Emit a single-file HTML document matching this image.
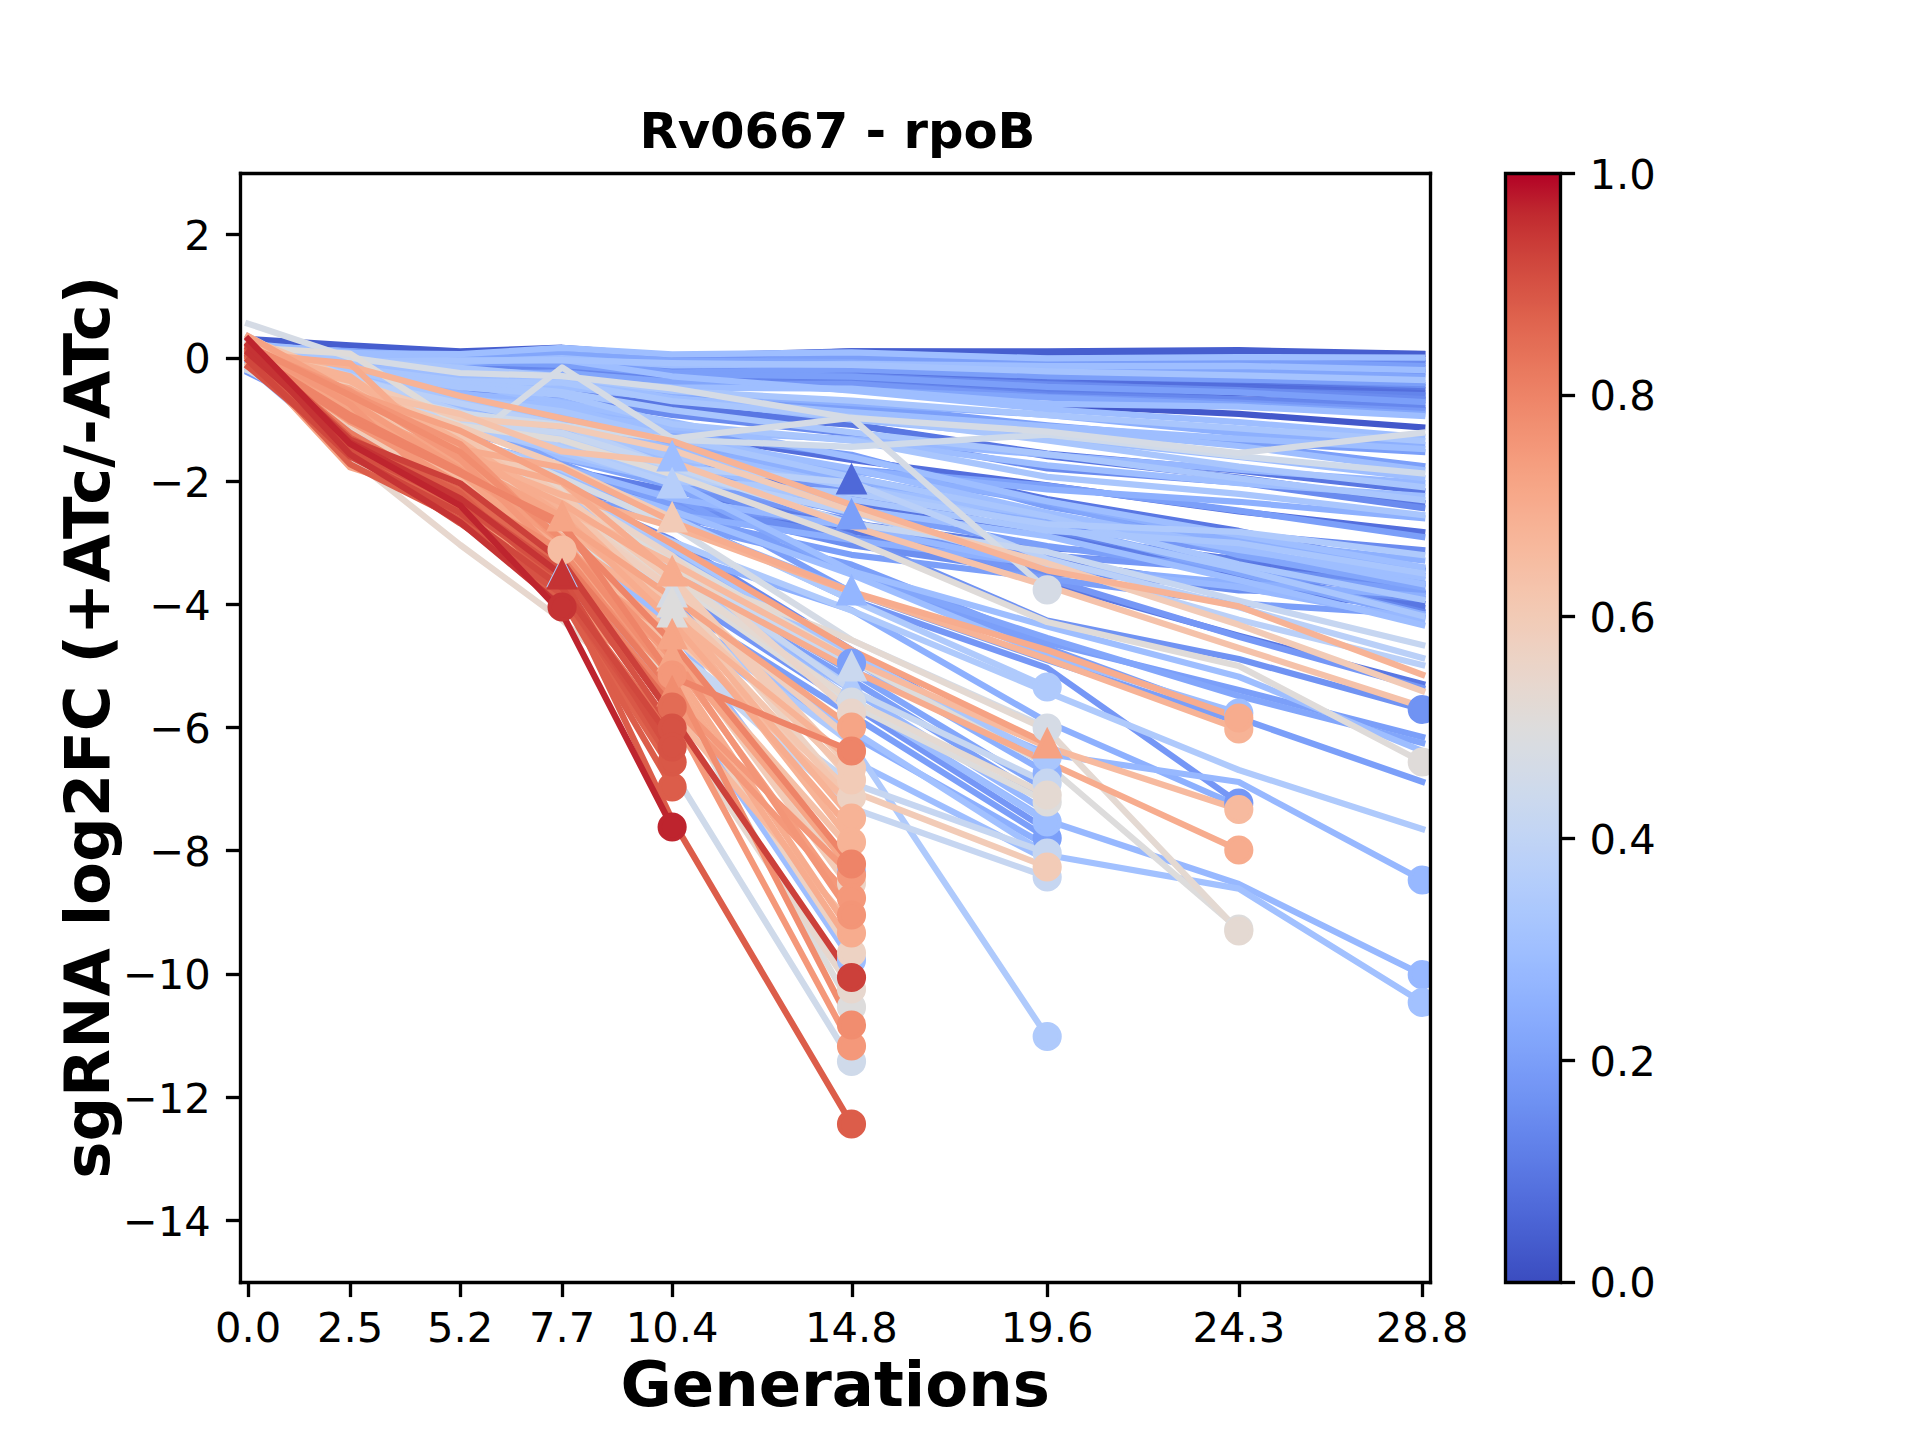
<!DOCTYPE html>
<html lang="en"><head><meta charset="utf-8"><title>Rv0667 - rpoB</title>
<style>html,body{margin:0;padding:0;background:#fff}body{width:1920px;height:1440px;overflow:hidden}svg{display:block}</style></head>
<body>
<svg  width="1920" height="1440" viewBox="0 0 460.8 345.6"  version="1.1">
<defs>
<style type="text/css">*{stroke-linejoin: round; stroke-linecap: butt}</style>
</defs>
<g id="figure_1">
<g id="patch_1">
<path d="M 0 345.6  L 460.8 345.6  L 460.8 0  L 0 0 
z
" style="fill: #ffffff"/>
</g>
<g id="axes_1">
<g id="patch_2">
<path d="M 57.6 307.584  L 343.296 307.584  L 343.296 41.472  L 57.6 41.472 
z
" style="fill: #ffffff"/>
</g>
<g id="matplotlib.axis_1">
<g id="xtick_1">
<g id="line2d_1">
<defs>
<path id="mb6b4cb69cc" d="M 0 0  L 0 3.5" style="stroke: #000000; stroke-width: 0.8"/>
</defs>
<g>
<use href="#mb6b4cb69cc" x="59.6400" y="307.8000" style="stroke: #000000; stroke-width: 0.8"/>
</g>
</g>
<g id="text_1">
<text style="font-size: 10px; font-family: 'DejaVu Sans', 'Liberation Sans', sans-serif; text-anchor: middle" x="59.556822" y="322.182437" transform="rotate(-0 59.556822 322.182437)">0.0</text>
</g>
</g>
<g id="xtick_2">
<g id="line2d_2">
<g>
<use href="#mb6b4cb69cc" x="84.1200" y="307.8000" style="stroke: #000000; stroke-width: 0.8"/>
</g>
</g>
<g id="text_2">
<text style="font-size: 10px; font-family: 'DejaVu Sans', 'Liberation Sans', sans-serif; text-anchor: middle" x="84.017096" y="322.182437" transform="rotate(-0 84.017096 322.182437)">2.5</text>
</g>
</g>
<g id="xtick_3">
<g id="line2d_3">
<g>
<use href="#mb6b4cb69cc" x="110.5200" y="307.8000" style="stroke: #000000; stroke-width: 0.8"/>
</g>
</g>
<g id="text_3">
<text style="font-size: 10px; font-family: 'DejaVu Sans', 'Liberation Sans', sans-serif; text-anchor: middle" x="110.434192" y="322.182437" transform="rotate(-0 110.434192 322.182437)">5.2</text>
</g>
</g>
<g id="xtick_4">
<g id="line2d_4">
<g>
<use href="#mb6b4cb69cc" x="135.0000" y="307.8000" style="stroke: #000000; stroke-width: 0.8"/>
</g>
</g>
<g id="text_4">
<text style="font-size: 10px; font-family: 'DejaVu Sans', 'Liberation Sans', sans-serif; text-anchor: middle" x="134.894466" y="322.182437" transform="rotate(-0 134.894466 322.182437)">7.7</text>
</g>
</g>
<g id="xtick_5">
<g id="line2d_5">
<g>
<use href="#mb6b4cb69cc" x="161.4000" y="307.8000" style="stroke: #000000; stroke-width: 0.8"/>
</g>
</g>
<g id="text_5">
<text style="font-size: 10px; font-family: 'DejaVu Sans', 'Liberation Sans', sans-serif; text-anchor: middle" x="161.311562" y="322.182437" transform="rotate(-0 161.311562 322.182437)">10.4</text>
</g>
</g>
<g id="xtick_6">
<g id="line2d_6">
<g>
<use href="#mb6b4cb69cc" x="204.6000" y="307.8000" style="stroke: #000000; stroke-width: 0.8"/>
</g>
</g>
<g id="text_6">
<text style="font-size: 10px; font-family: 'DejaVu Sans', 'Liberation Sans', sans-serif; text-anchor: middle" x="204.361644" y="322.182437" transform="rotate(-0 204.361644 322.182437)">14.8</text>
</g>
</g>
<g id="xtick_7">
<g id="line2d_7">
<g>
<use href="#mb6b4cb69cc" x="251.4000" y="307.8000" style="stroke: #000000; stroke-width: 0.8"/>
</g>
</g>
<g id="text_7">
<text style="font-size: 10px; font-family: 'DejaVu Sans', 'Liberation Sans', sans-serif; text-anchor: middle" x="251.32537" y="322.182437" transform="rotate(-0 251.32537 322.182437)">19.6</text>
</g>
</g>
<g id="xtick_8">
<g id="line2d_8">
<g>
<use href="#mb6b4cb69cc" x="297.4800" y="307.8000" style="stroke: #000000; stroke-width: 0.8"/>
</g>
</g>
<g id="text_8">
<text style="font-size: 10px; font-family: 'DejaVu Sans', 'Liberation Sans', sans-serif; text-anchor: middle" x="297.310685" y="322.182437" transform="rotate(-0 297.310685 322.182437)">24.3</text>
</g>
</g>
<g id="xtick_9">
<g id="line2d_9">
<g>
<use href="#mb6b4cb69cc" x="341.4000" y="307.8000" style="stroke: #000000; stroke-width: 0.8"/>
</g>
</g>
<g id="text_9">
<text style="font-size: 10px; font-family: 'DejaVu Sans', 'Liberation Sans', sans-serif; text-anchor: middle" x="341.339178" y="322.182437" transform="rotate(-0 341.339178 322.182437)">28.8</text>
</g>
</g>
<g id="text_10">
<text style="font-weight: 700; font-size: 15px; font-family: 'DejaVu Sans', 'Liberation Sans', sans-serif; text-anchor: middle" x="200.448" y="337.359781" transform="rotate(-0 200.448 337.359781)">Generations</text>
</g>
</g>
<g id="matplotlib.axis_2">
<g id="ytick_1">
<g id="line2d_10">
<defs>
<path id="m3492a39d4b" d="M 0 0  L -3.5 0" style="stroke: #000000; stroke-width: 0.8"/>
</defs>
<g>
<use href="#m3492a39d4b" x="57.7200" y="292.9200" style="stroke: #000000; stroke-width: 0.8"/>
</g>
</g>
<g id="text_11">
<text style="font-size: 10px; font-family: 'DejaVu Sans', 'Liberation Sans', sans-serif; text-anchor: end" x="50.6" y="296.599219" transform="rotate(-0 50.6 296.599219)">−14</text>
</g>
</g>
<g id="ytick_2">
<g id="line2d_11">
<g>
<use href="#m3492a39d4b" x="57.7200" y="263.4000" style="stroke: #000000; stroke-width: 0.8"/>
</g>
</g>
<g id="text_12">
<text style="font-size: 10px; font-family: 'DejaVu Sans', 'Liberation Sans', sans-serif; text-anchor: end" x="50.6" y="267.031219" transform="rotate(-0 50.6 267.031219)">−12</text>
</g>
</g>
<g id="ytick_3">
<g id="line2d_12">
<g>
<use href="#m3492a39d4b" x="57.7200" y="233.8800" style="stroke: #000000; stroke-width: 0.8"/>
</g>
</g>
<g id="text_13">
<text style="font-size: 10px; font-family: 'DejaVu Sans', 'Liberation Sans', sans-serif; text-anchor: end" x="50.6" y="237.463219" transform="rotate(-0 50.6 237.463219)">−10</text>
</g>
</g>
<g id="ytick_4">
<g id="line2d_13">
<g>
<use href="#m3492a39d4b" x="57.7200" y="204.1200" style="stroke: #000000; stroke-width: 0.8"/>
</g>
</g>
<g id="text_14">
<text style="font-size: 10px; font-family: 'DejaVu Sans', 'Liberation Sans', sans-serif; text-anchor: end" x="50.6" y="207.895219" transform="rotate(-0 50.6 207.895219)">−8</text>
</g>
</g>
<g id="ytick_5">
<g id="line2d_14">
<g>
<use href="#m3492a39d4b" x="57.7200" y="174.6000" style="stroke: #000000; stroke-width: 0.8"/>
</g>
</g>
<g id="text_15">
<text style="font-size: 10px; font-family: 'DejaVu Sans', 'Liberation Sans', sans-serif; text-anchor: end" x="50.6" y="178.327219" transform="rotate(-0 50.6 178.327219)">−6</text>
</g>
</g>
<g id="ytick_6">
<g id="line2d_15">
<g>
<use href="#m3492a39d4b" x="57.7200" y="145.0800" style="stroke: #000000; stroke-width: 0.8"/>
</g>
</g>
<g id="text_16">
<text style="font-size: 10px; font-family: 'DejaVu Sans', 'Liberation Sans', sans-serif; text-anchor: end" x="50.6" y="148.759219" transform="rotate(-0 50.6 148.759219)">−4</text>
</g>
</g>
<g id="ytick_7">
<g id="line2d_16">
<g>
<use href="#m3492a39d4b" x="57.7200" y="115.5600" style="stroke: #000000; stroke-width: 0.8"/>
</g>
</g>
<g id="text_17">
<text style="font-size: 10px; font-family: 'DejaVu Sans', 'Liberation Sans', sans-serif; text-anchor: end" x="50.6" y="119.191219" transform="rotate(-0 50.6 119.191219)">−2</text>
</g>
</g>
<g id="ytick_8">
<g id="line2d_17">
<g>
<use href="#m3492a39d4b" x="57.7200" y="86.0400" style="stroke: #000000; stroke-width: 0.8"/>
</g>
</g>
<g id="text_18">
<text style="font-size: 10px; font-family: 'DejaVu Sans', 'Liberation Sans', sans-serif; text-anchor: end" x="50.6" y="89.623219" transform="rotate(-0 50.6 89.623219)">0</text>
</g>
</g>
<g id="ytick_9">
<g id="line2d_18">
<g>
<use href="#m3492a39d4b" x="57.7200" y="56.2800" style="stroke: #000000; stroke-width: 0.8"/>
</g>
</g>
<g id="text_19">
<text style="font-size: 10px; font-family: 'DejaVu Sans', 'Liberation Sans', sans-serif; text-anchor: end" x="50.6" y="60.055219" transform="rotate(-0 50.6 60.055219)">2</text>
</g>
</g>
<g id="text_20">
<text style="font-weight: 700; font-size: 15px; font-family: 'DejaVu Sans', 'Liberation Sans', sans-serif; text-anchor: middle" x="26.258594" y="174.528" transform="rotate(-90 26.258594 174.528)">sgRNA log2FC (+ATc/-ATc)</text>
</g>
</g>
<g id="line2d_19">
<path d="M 59.556822 84.739619  L 84.017096 85.858278  L 110.434192 87.707197  L 134.894466 88.118557  L 161.311562 91.282524  L 204.361644 93.452818  L 251.32537 97.20041  L 297.310685 99.332141  L 341.339178 102.6" clip-path="url(#p1a0d5e3a1a)" style="fill: none; stroke: #4358cb; stroke-width: 1.5; stroke-linecap: square"/>
</g>
<g id="line2d_20">
<path d="M 59.556822 84.935323  L 84.017096 85.428915  L 110.434192 84.741568  L 134.894466 84.572785  L 161.311562 85.862252  L 204.361644 84.352285  L 251.32537 84.624828  L 297.310685 84.875966  L 341.339178 84.96" clip-path="url(#p1a0d5e3a1a)" style="fill: none; stroke: #465ecf; stroke-width: 1.5; stroke-linecap: square"/>
</g>
<g id="line2d_21">
<path d="M 59.556822 81.3888  L 84.017096 82.8672  L 110.434192 84.3456  L 134.894466 83.45856  L 161.311562 85.38048  L 204.361644 84.3456  L 251.32537 84.3456  L 297.310685 84.04992  L 341.339178 84.93696" clip-path="url(#p1a0d5e3a1a)" style="fill: none; stroke: #465ecf; stroke-width: 1.5; stroke-linecap: square"/>
</g>
<g id="line2d_22">
<path d="M 59.556822 86.121946  L 84.017096 86.583685  L 110.434192 86.57828  L 134.894466 85.662593  L 161.311562 86.911698  L 204.361644 86.143989  L 251.32537 86.707231  L 297.310685 87.068986  L 341.339178 87.12" clip-path="url(#p1a0d5e3a1a)" style="fill: none; stroke: #4961d2; stroke-width: 1.5; stroke-linecap: square"/>
</g>
<g id="line2d_23">
<path d="M 59.556822 88.0416  L 84.017096 88.683555  L 110.434192 90.7112  L 134.894466 89.503403  L 161.311562 91.077521  L 204.361644 91.81177  L 251.32537 93.519121  L 297.310685 94.373305  L 341.339178 96" clip-path="url(#p1a0d5e3a1a)" style="fill: none; stroke: #4961d2; stroke-width: 1.5; stroke-linecap: square"/>
</g>
<g id="line2d_24">
<path d="M 59.556822 83.356564  L 84.017096 89.491571  L 110.434192 94.779926  L 134.894466 98.779363  L 161.311562 105.164847  L 204.361644 115.2" clip-path="url(#p1a0d5e3a1a)" style="fill: none; stroke: #4f69d9; stroke-width: 1.5; stroke-linecap: square"/>
</g>
<g id="line2d_25">
<path d="M 59.556822 84.4621  L 84.017096 85.868636  L 110.434192 87.118706  L 134.894466 86.109407  L 161.311562 89.300332  L 204.361644 89.407824  L 251.32537 91.195214  L 297.310685 91.75971  L 341.339178 93.6" clip-path="url(#p1a0d5e3a1a)" style="fill: none; stroke: #4f69d9; stroke-width: 1.5; stroke-linecap: square"/>
</g>
<g id="line2d_26">
<path d="M 59.556822 84.7967  L 84.017096 86.031192  L 110.434192 87.105489  L 134.894466 86.850166  L 161.311562 89.140323  L 204.361644 89.266775  L 251.32537 91.154067  L 297.310685 93.054263  L 341.339178 94.32" clip-path="url(#p1a0d5e3a1a)" style="fill: none; stroke: #536edd; stroke-width: 1.5; stroke-linecap: square"/>
</g>
<g id="line2d_27">
<path d="M 59.556822 86.623374  L 84.017096 86.897485  L 110.434192 87.490705  L 134.894466 86.912435  L 161.311562 87.819203  L 204.361644 86.548881  L 251.32537 87.94144  L 297.310685 88.019008  L 341.339178 88.32" clip-path="url(#p1a0d5e3a1a)" style="fill: none; stroke: #536edd; stroke-width: 1.5; stroke-linecap: square"/>
</g>
<g id="line2d_28">
<path d="M 59.556822 85.143743  L 84.017096 89.882732  L 110.434192 95.864374  L 134.894466 98.937334  L 161.311562 103.778527  L 204.361644 110.398186  L 251.32537 116.48058  L 297.310685 122.746487  L 341.339178 127.68" clip-path="url(#p1a0d5e3a1a)" style="fill: none; stroke: #536edd; stroke-width: 1.5; stroke-linecap: square"/>
</g>
<g id="line2d_29">
<path d="M 59.556822 84.94777  L 84.017096 97.302539  L 110.434192 100.137343  L 134.894466 105.277021  L 161.311562 113.483065  L 204.361644 126.934071  L 251.32537 139.749136  L 297.310685 152.556022  L 341.339178 164.16" clip-path="url(#p1a0d5e3a1a)" style="fill: none; stroke: #5977e3; stroke-width: 1.5; stroke-linecap: square"/>
</g>
<g id="line2d_30">
<path d="M 59.556822 84.285196  L 84.017096 84.943875  L 110.434192 86.30936  L 134.894466 86.152237  L 161.311562 88.629788  L 204.361644 88.687673  L 251.32537 90.300305  L 297.310685 91.336636  L 341.339178 92.88" clip-path="url(#p1a0d5e3a1a)" style="fill: none; stroke: #5977e3; stroke-width: 1.5; stroke-linecap: square"/>
</g>
<g id="line2d_31">
<path d="M 59.556822 86.175004  L 84.017096 87.687509  L 110.434192 88.227353  L 134.894466 87.203498  L 161.311562 89.886184  L 204.361644 90.213962  L 251.32537 91.772661  L 297.310685 94.100037  L 341.339178 95.04" clip-path="url(#p1a0d5e3a1a)" style="fill: none; stroke: #5977e3; stroke-width: 1.5; stroke-linecap: square"/>
</g>
<g id="line2d_32">
<path d="M 59.556822 85.249763  L 84.017096 85.503864  L 110.434192 86.292619  L 134.894466 84.681975  L 161.311562 86.127386  L 204.361644 84.744073  L 251.32537 86.02547  L 297.310685 85.97518  L 341.339178 86.16" clip-path="url(#p1a0d5e3a1a)" style="fill: none; stroke: #5977e3; stroke-width: 1.5; stroke-linecap: square"/>
</g>
<g id="line2d_33">
<path d="M 59.556822 85.653723  L 84.017096 86.605437  L 110.434192 89.797285  L 134.894466 88.93993  L 161.311562 91.592823  L 204.361644 92.068155  L 251.32537 94.761999  L 297.310685 96.052291  L 341.339178 98.4" clip-path="url(#p1a0d5e3a1a)" style="fill: none; stroke: #5977e3; stroke-width: 1.5; stroke-linecap: square"/>
</g>
<g id="line2d_34">
<path d="M 59.556822 85.011169  L 84.017096 89.552353  L 110.434192 92.463035  L 134.894466 94.432655  L 161.311562 98.949397  L 204.361644 101.924057  L 251.32537 108.886911  L 297.310685 112.976394  L 341.339178 117.84" clip-path="url(#p1a0d5e3a1a)" style="fill: none; stroke: #5977e3; stroke-width: 1.5; stroke-linecap: square"/>
</g>
<g id="line2d_35">
<path d="M 59.556822 84.932945  L 84.017096 87.902316  L 110.434192 91.579056  L 134.894466 92.861444  L 161.311562 97.35606  L 204.361644 101.864057  L 251.32537 109.502283  L 297.310685 114.620876  L 341.339178 120.72" clip-path="url(#p1a0d5e3a1a)" style="fill: none; stroke: #5977e3; stroke-width: 1.5; stroke-linecap: square"/>
</g>
<g id="line2d_36">
<path d="M 59.556822 83.204177  L 84.017096 90.9111  L 110.434192 98.626862  L 134.894466 104.329355  L 161.311562 109.241239  L 204.361644 120.805381  L 251.32537 127.26184  L 297.310685 138.060243  L 341.339178 144.886154" clip-path="url(#p1a0d5e3a1a)" style="fill: none; stroke: #5977e3; stroke-width: 1.5; stroke-linecap: square"/>
</g>
<g id="line2d_37">
<path d="M 59.556822 84.509249  L 84.017096 97.440942  L 110.434192 105.644927  L 134.894466 113.581542  L 161.311562 120.144897  L 204.361644 127.561208  L 251.32537 134.29261  L 297.310685 141.244115  L 341.339178 145.864615" clip-path="url(#p1a0d5e3a1a)" style="fill: none; stroke: #5977e3; stroke-width: 1.5; stroke-linecap: square"/>
</g>
<g id="line2d_38">
<path d="M 59.556822 84.738566  L 84.017096 89.790799  L 110.434192 93.833805  L 134.894466 98.61506  L 161.311562 102.725109  L 204.361644 109.639415  L 251.32537 119.78705  L 297.310685 127.424002  L 341.339178 136.809593" clip-path="url(#p1a0d5e3a1a)" style="fill: none; stroke: #5977e3; stroke-width: 1.5; stroke-linecap: square"/>
</g>
<g id="line2d_39">
<path d="M 59.556822 84.71696  L 84.017096 93.934198  L 110.434192 99.766585  L 134.894466 103.807977  L 161.311562 111.746464  L 204.361644 118.098014  L 251.32537 128.321786  L 297.310685 134.344322  L 341.339178 142.352737" clip-path="url(#p1a0d5e3a1a)" style="fill: none; stroke: #5977e3; stroke-width: 1.5; stroke-linecap: square"/>
</g>
<g id="line2d_40">
<path d="M 59.556822 84.856935  L 84.017096 85.700597  L 110.434192 86.780253  L 134.894466 85.508014  L 161.311562 86.840837  L 204.361644 86.928465  L 251.32537 88.48269  L 297.310685 89.020223  L 341.339178 89.76" clip-path="url(#p1a0d5e3a1a)" style="fill: none; stroke: #5f7fe8; stroke-width: 1.5; stroke-linecap: square"/>
</g>
<g id="line2d_41">
<path d="M 59.556822 86.725518  L 84.017096 87.905451  L 110.434192 89.708248  L 134.894466 87.547687  L 161.311562 91.273318  L 204.361644 91.400914  L 251.32537 93.954471  L 297.310685 95.8421  L 341.339178 97.2" clip-path="url(#p1a0d5e3a1a)" style="fill: none; stroke: #5f7fe8; stroke-width: 1.5; stroke-linecap: square"/>
</g>
<g id="line2d_42">
<path d="M 59.556822 85.763393  L 84.017096 96.837773  L 110.434192 106.708496  L 134.894466 112.602291  L 161.311562 117.823404  L 204.361644 125.623601  L 251.32537 131.537353  L 297.310685 134.039837  L 341.339178 136.410562" clip-path="url(#p1a0d5e3a1a)" style="fill: none; stroke: #5f7fe8; stroke-width: 1.5; stroke-linecap: square"/>
</g>
<g id="line2d_43">
<path d="M 59.556822 85.185683  L 84.017096 85.375329  L 110.434192 87.646212  L 134.894466 87.339611  L 161.311562 89.22026  L 204.361644 90.566488  L 251.32537 92.203317  L 297.310685 93.796286  L 341.339178 94.8" clip-path="url(#p1a0d5e3a1a)" style="fill: none; stroke: #6384eb; stroke-width: 1.5; stroke-linecap: square"/>
</g>
<g id="line2d_44">
<path d="M 59.556822 85.545845  L 84.017096 87.05414  L 110.434192 88.371636  L 134.894466 88.428459  L 161.311562 91.392156  L 204.361644 92.009648  L 251.32537 94.687487  L 297.310685 95.866261  L 341.339178 97.92" clip-path="url(#p1a0d5e3a1a)" style="fill: none; stroke: #6687ed; stroke-width: 1.5; stroke-linecap: square"/>
</g>
<g id="line2d_45">
<path d="M 59.556822 84.816633  L 84.017096 88.49127  L 110.434192 97.790979  L 134.894466 102.182812  L 161.311562 107.318974  L 204.361644 114.950129  L 251.32537 127.007108  L 297.310685 136.328566  L 341.339178 146.843077" clip-path="url(#p1a0d5e3a1a)" style="fill: none; stroke: #6687ed; stroke-width: 1.5; stroke-linecap: square"/>
</g>
<g id="line2d_46">
<path d="M 59.556822 84.740185  L 84.017096 98.601178  L 110.434192 106.368478  L 134.894466 117.655892  L 161.311562 129.558588  L 204.361644 156  L 251.32537 183.6" clip-path="url(#p1a0d5e3a1a)" style="fill: none; stroke: #6a8bef; stroke-width: 1.5; stroke-linecap: square"/>
</g>
<g id="line2d_47">
<path d="M 59.556822 85.301717  L 84.017096 85.66599  L 110.434192 85.41282  L 134.894466 84.631119  L 161.311562 85.904142  L 204.361644 85.601979  L 251.32537 86.662098  L 297.310685 86.107458  L 341.339178 86.64" clip-path="url(#p1a0d5e3a1a)" style="fill: none; stroke: #6a8bef; stroke-width: 1.5; stroke-linecap: square"/>
</g>
<g id="line2d_48">
<path d="M 59.556822 84.975881  L 84.017096 85.031081  L 110.434192 87.331179  L 134.894466 86.528222  L 161.311562 89.398119  L 204.361644 90.190086  L 251.32537 92.305495  L 297.310685 93.648414  L 341.339178 95.76" clip-path="url(#p1a0d5e3a1a)" style="fill: none; stroke: #6a8bef; stroke-width: 1.5; stroke-linecap: square"/>
</g>
<g id="line2d_49">
<path d="M 59.556822 84.658313  L 84.017096 89.787452  L 110.434192 94.108256  L 134.894466 95.561475  L 161.311562 99.561802  L 204.361644 104.150481  L 251.32537 112.403347  L 297.310685 115.806344  L 341.339178 121.92" clip-path="url(#p1a0d5e3a1a)" style="fill: none; stroke: #6a8bef; stroke-width: 1.5; stroke-linecap: square"/>
</g>
<g id="line2d_50">
<path d="M 59.556822 86.549737  L 84.017096 95.4713  L 110.434192 101.498805  L 134.894466 105.599586  L 161.311562 113.619146  L 204.361644 118.783313  L 251.32537 125.148005  L 297.310685 128.128288  L 341.339178 132" clip-path="url(#p1a0d5e3a1a)" style="fill: none; stroke: #6a8bef; stroke-width: 1.5; stroke-linecap: square"/>
</g>
<g id="line2d_51">
<path d="M 59.556822 84.728393  L 84.017096 84.961824  L 110.434192 86.448038  L 134.894466 86.092402  L 161.311562 87.869391  L 204.361644 88.091655  L 251.32537 90.240445  L 297.310685 90.952729  L 341.339178 92.4" clip-path="url(#p1a0d5e3a1a)" style="fill: none; stroke: #6c8ff1; stroke-width: 1.5; stroke-linecap: square"/>
</g>
<g id="line2d_52">
<path d="M 59.556822 86.740715  L 84.017096 100.674463  L 110.434192 109.963802  L 134.894466 117.19711  L 161.311562 123.080662  L 204.361644 129.710801  L 251.32537 136.159544  L 297.310685 141.672528  L 341.339178 142.546324" clip-path="url(#p1a0d5e3a1a)" style="fill: none; stroke: #6c8ff1; stroke-width: 1.5; stroke-linecap: square"/>
</g>
<g id="line2d_53">
<path d="M 59.556822 85.640037  L 84.017096 96.876606  L 110.434192 105.571281  L 134.894466 113.166952  L 161.311562 120.549505  L 204.361644 129.075772  L 251.32537 133.344548  L 297.310685 136.489454  L 341.339178 140.542092" clip-path="url(#p1a0d5e3a1a)" style="fill: none; stroke: #6c8ff1; stroke-width: 1.5; stroke-linecap: square"/>
</g>
<g id="line2d_54">
<path d="M 59.556822 82.614917  L 84.017096 94.677262  L 110.434192 108.413375  L 134.894466 115.236145  L 161.311562 121.053986  L 204.361644 130.8232  L 251.32537 137.69362  L 297.310685 139.620171  L 341.339178 143.783158" clip-path="url(#p1a0d5e3a1a)" style="fill: none; stroke: #6c8ff1; stroke-width: 1.5; stroke-linecap: square"/>
</g>
<g id="line2d_55">
<path d="M 59.556822 86.677255  L 84.017096 96.300199  L 110.434192 103.863423  L 134.894466 108.338116  L 161.311562 115.927413  L 204.361644 128.712784  L 251.32537 148.938079  L 297.310685 158.16  L 341.339178 170.28" clip-path="url(#p1a0d5e3a1a)" style="fill: none; stroke: #7093f3; stroke-width: 1.5; stroke-linecap: square"/>
</g>
<g id="line2d_56">
<path d="M 59.556822 89.412242  L 84.017096 101.55837  L 110.434192 113.635274  L 134.894466 126.919817  L 161.311562 141.501817  L 204.361644 169.2  L 251.32537 199.2" clip-path="url(#p1a0d5e3a1a)" style="fill: none; stroke: #7597f6; stroke-width: 1.5; stroke-linecap: square"/>
</g>
<g id="line2d_57">
<path d="M 59.556822 85.933278  L 84.017096 99.545066  L 110.434192 104.772864  L 134.894466 119.561852  L 161.311562 123.723537  L 204.361644 144  L 251.32537 160.32  L 297.310685 192.72" clip-path="url(#p1a0d5e3a1a)" style="fill: none; stroke: #7597f6; stroke-width: 1.5; stroke-linecap: square"/>
</g>
<g id="line2d_58">
<path d="M 59.556822 85.708532  L 84.017096 91.346603  L 110.434192 99.123246  L 134.894466 105.673386  L 161.311562 115.625745  L 204.361644 124.999589  L 251.32537 138.867209  L 297.310685 152.810387  L 341.339178 165.12" clip-path="url(#p1a0d5e3a1a)" style="fill: none; stroke: #7597f6; stroke-width: 1.5; stroke-linecap: square"/>
</g>
<g id="line2d_59">
<path d="M 59.556822 87.466651  L 84.017096 88.049833  L 110.434192 90.451998  L 134.894466 89.267457  L 161.311562 92.38353  L 204.361644 92.108804  L 251.32537 95.174446  L 297.310685 96.633049  L 341.339178 98.64" clip-path="url(#p1a0d5e3a1a)" style="fill: none; stroke: #7597f6; stroke-width: 1.5; stroke-linecap: square"/>
</g>
<g id="line2d_60">
<path d="M 59.556822 84.576026  L 84.017096 85.590331  L 110.434192 86.633225  L 134.894466 85.120127  L 161.311562 86.564516  L 204.361644 86.111029  L 251.32537 87.75636  L 297.310685 88.24539  L 341.339178 89.28" clip-path="url(#p1a0d5e3a1a)" style="fill: none; stroke: #7597f6; stroke-width: 1.5; stroke-linecap: square"/>
</g>
<g id="line2d_61">
<path d="M 59.556822 84.902079  L 84.017096 93.091315  L 110.434192 100.511876  L 134.894466 104.373166  L 161.311562 110.450265  L 204.361644 117.605724  L 251.32537 125.785028  L 297.310685 132.680485  L 341.339178 139.993846" clip-path="url(#p1a0d5e3a1a)" style="fill: none; stroke: #7597f6; stroke-width: 1.5; stroke-linecap: square"/>
</g>
<g id="line2d_62">
<path d="M 59.556822 84.589112  L 84.017096 94.992356  L 110.434192 105.857606  L 134.894466 111.67881  L 161.311562 120.740452  L 204.361644 126.103289  L 251.32537 133.440798  L 297.310685 136.783827  L 341.339178 142.929231" clip-path="url(#p1a0d5e3a1a)" style="fill: none; stroke: #7597f6; stroke-width: 1.5; stroke-linecap: square"/>
</g>
<g id="line2d_63">
<path d="M 59.556822 84.113842  L 84.017096 90.805856  L 110.434192 98.476573  L 134.894466 103.714037  L 161.311562 111.308923  L 204.361644 123.6" clip-path="url(#p1a0d5e3a1a)" style="fill: none; stroke: #7b9ff9; stroke-width: 1.5; stroke-linecap: square"/>
</g>
<g id="line2d_64">
<path d="M 59.556822 85.316636  L 84.017096 96.830535  L 110.434192 107.083588  L 134.894466 118.616225  L 161.311562 136.229657  L 204.361644 159.12" clip-path="url(#p1a0d5e3a1a)" style="fill: none; stroke: #7b9ff9; stroke-width: 1.5; stroke-linecap: square"/>
</g>
<g id="line2d_65">
<path d="M 59.556822 87.187068  L 84.017096 100.058308  L 110.434192 112.913911  L 134.894466 126.58909  L 161.311562 144.635264  L 204.361644 171.6  L 251.32537 201.12" clip-path="url(#p1a0d5e3a1a)" style="fill: none; stroke: #7b9ff9; stroke-width: 1.5; stroke-linecap: square"/>
</g>
<g id="line2d_66">
<path d="M 59.556822 82.914928  L 84.017096 94.036539  L 110.434192 106.738067  L 134.894466 121.257818  L 161.311562 137.995563  L 204.361644 163.2  L 251.32537 192" clip-path="url(#p1a0d5e3a1a)" style="fill: none; stroke: #7b9ff9; stroke-width: 1.5; stroke-linecap: square"/>
</g>
<g id="line2d_67">
<path d="M 59.556822 87.068245  L 84.017096 96.381817  L 110.434192 104.110686  L 134.894466 116.242084  L 161.311562 118.678753  L 204.361644 142.123044  L 251.32537 158.4  L 297.310685 173.28" clip-path="url(#p1a0d5e3a1a)" style="fill: none; stroke: #7b9ff9; stroke-width: 1.5; stroke-linecap: square"/>
</g>
<g id="line2d_68">
<path d="M 59.556822 86.11683  L 84.017096 98.852837  L 110.434192 109.646352  L 134.894466 111.281866  L 161.311562 121.308999  L 204.361644 137.310779  L 251.32537 155.449466  L 297.310685 172.32  L 341.339178 187.608" clip-path="url(#p1a0d5e3a1a)" style="fill: none; stroke: #7b9ff9; stroke-width: 1.5; stroke-linecap: square"/>
</g>
<g id="line2d_69">
<path d="M 59.556822 89.054139  L 84.017096 98.254132  L 110.434192 107.684885  L 134.894466 118.242617  L 161.311562 125.353326  L 204.361644 135.502249  L 251.32537 154.18707  L 297.310685 165.6  L 341.339178 176.88" clip-path="url(#p1a0d5e3a1a)" style="fill: none; stroke: #7b9ff9; stroke-width: 1.5; stroke-linecap: square"/>
</g>
<g id="line2d_70">
<path d="M 59.556822 85.541927  L 84.017096 86.297483  L 110.434192 86.469322  L 134.894466 85.770187  L 161.311562 87.391759  L 204.361644 85.59829  L 251.32537 87.412962  L 297.310685 86.74714  L 341.339178 87.84" clip-path="url(#p1a0d5e3a1a)" style="fill: none; stroke: #7b9ff9; stroke-width: 1.5; stroke-linecap: square"/>
</g>
<g id="line2d_71">
<path d="M 59.556822 85.762539  L 84.017096 86.275331  L 110.434192 87.38852  L 134.894466 86.443506  L 161.311562 89.400441  L 204.361644 88.673067  L 251.32537 90.243548  L 297.310685 91.0862  L 341.339178 91.92" clip-path="url(#p1a0d5e3a1a)" style="fill: none; stroke: #7b9ff9; stroke-width: 1.5; stroke-linecap: square"/>
</g>
<g id="line2d_72">
<path d="M 59.556822 84.011817  L 84.017096 85.391738  L 110.434192 86.788577  L 134.894466 87.586287  L 161.311562 89.809766  L 204.361644 90.362794  L 251.32537 92.836175  L 297.310685 94.174504  L 341.339178 96.48" clip-path="url(#p1a0d5e3a1a)" style="fill: none; stroke: #7b9ff9; stroke-width: 1.5; stroke-linecap: square"/>
</g>
<g id="line2d_73">
<path d="M 59.556822 83.775674  L 84.017096 97.924392  L 110.434192 108.026685  L 134.894466 119.490186  L 161.311562 123.838019  L 204.361644 133.14591  L 251.32537 138.816115  L 297.310685 144.838302  L 341.339178 147.519923" clip-path="url(#p1a0d5e3a1a)" style="fill: none; stroke: #7b9ff9; stroke-width: 1.5; stroke-linecap: square"/>
</g>
<g id="line2d_74">
<path d="M 59.556822 83.312547  L 84.017096 87.347514  L 110.434192 89.179092  L 134.894466 92.213031  L 161.311562 95.099921  L 204.361644 97.098412  L 251.32537 102.089053  L 297.310685 105.978333  L 341.339178 108.48" clip-path="url(#p1a0d5e3a1a)" style="fill: none; stroke: #7b9ff9; stroke-width: 1.5; stroke-linecap: square"/>
</g>
<g id="line2d_75">
<path d="M 59.556822 86.597983  L 84.017096 88.60292  L 110.434192 91.139714  L 134.894466 92.367901  L 161.311562 95.685042  L 204.361644 97.905701  L 251.32537 103.332297  L 297.310685 106.575027  L 341.339178 111.84" clip-path="url(#p1a0d5e3a1a)" style="fill: none; stroke: #7b9ff9; stroke-width: 1.5; stroke-linecap: square"/>
</g>
<g id="line2d_76">
<path d="M 59.556822 84.649263  L 84.017096 91.291296  L 110.434192 96.755402  L 134.894466 100.283748  L 161.311562 105.648622  L 204.361644 112.613442  L 251.32537 116.562339  L 297.310685 122.54576  L 341.339178 128.88" clip-path="url(#p1a0d5e3a1a)" style="fill: none; stroke: #7b9ff9; stroke-width: 1.5; stroke-linecap: square"/>
</g>
<g id="line2d_77">
<path d="M 59.556822 85.8709  L 84.017096 90.318228  L 110.434192 95.395959  L 134.894466 98.969722  L 161.311562 103.652723  L 204.361644 109.137318  L 251.32537 121.561565  L 297.310685 129.52272  L 341.339178 138.036923" clip-path="url(#p1a0d5e3a1a)" style="fill: none; stroke: #7b9ff9; stroke-width: 1.5; stroke-linecap: square"/>
</g>
<g id="line2d_78">
<path d="M 59.556822 86.169466  L 84.017096 96.018242  L 110.434192 103.592248  L 134.894466 105.481535  L 161.311562 116.086828  L 204.361644 122.579697  L 251.32537 131.0875  L 297.310685 137.001515  L 341.339178 141.950769" clip-path="url(#p1a0d5e3a1a)" style="fill: none; stroke: #7b9ff9; stroke-width: 1.5; stroke-linecap: square"/>
</g>
<g id="line2d_79">
<path d="M 59.556822 84.32643  L 84.017096 95.693764  L 110.434192 108.388082  L 134.894466 119.82483  L 161.311562 136.429431  L 204.361644 161.28  L 251.32537 189.6" clip-path="url(#p1a0d5e3a1a)" style="fill: none; stroke: #82a6fb; stroke-width: 1.5; stroke-linecap: square"/>
</g>
<g id="line2d_80">
<path d="M 59.556822 85.627321  L 84.017096 95.568476  L 110.434192 103.303854  L 134.894466 110.053711  L 161.311562 116.582557  L 204.361644 137.714106  L 251.32537 153.136833  L 297.310685 167.04  L 341.339178 178.32" clip-path="url(#p1a0d5e3a1a)" style="fill: none; stroke: #82a6fb; stroke-width: 1.5; stroke-linecap: square"/>
</g>
<g id="line2d_81">
<path d="M 59.556822 83.153723  L 84.017096 84.271539  L 110.434192 85.570687  L 134.894466 84.924173  L 161.311562 86.605202  L 204.361644 86.886632  L 251.32537 88.867062  L 297.310685 88.843713  L 341.339178 90.48" clip-path="url(#p1a0d5e3a1a)" style="fill: none; stroke: #82a6fb; stroke-width: 1.5; stroke-linecap: square"/>
</g>
<g id="line2d_82">
<path d="M 59.556822 86.652767  L 84.017096 87.378017  L 110.434192 89.389972  L 134.894466 89.465102  L 161.311562 91.649019  L 204.361644 93.539418  L 251.32537 95.442201  L 297.310685 97.151214  L 341.339178 99.36" clip-path="url(#p1a0d5e3a1a)" style="fill: none; stroke: #82a6fb; stroke-width: 1.5; stroke-linecap: square"/>
</g>
<g id="line2d_83">
<path d="M 59.556822 84.337611  L 84.017096 90.268402  L 110.434192 95.86391  L 134.894466 99.266019  L 161.311562 106.973669  L 204.361644 114.61301  L 251.32537 123.256171  L 297.310685 132.07308  L 341.339178 139.015385" clip-path="url(#p1a0d5e3a1a)" style="fill: none; stroke: #82a6fb; stroke-width: 1.5; stroke-linecap: square"/>
</g>
<g id="line2d_84">
<path d="M 59.556822 83.602759  L 84.017096 89.285916  L 110.434192 95.546645  L 134.894466 97.635762  L 161.311562 105.455302  L 204.361644 112.850589  L 251.32537 120.538339  L 297.310685 133.26147  L 341.339178 140.972308" clip-path="url(#p1a0d5e3a1a)" style="fill: none; stroke: #82a6fb; stroke-width: 1.5; stroke-linecap: square"/>
</g>
<g id="line2d_85">
<path d="M 59.556822 83.017129  L 84.017096 89.621266  L 110.434192 95.875465  L 134.894466 100.085231  L 161.311562 107.824847  L 204.361644 114.31095  L 251.32537 125.76786  L 297.310685 137.602227  L 341.339178 148.133182" clip-path="url(#p1a0d5e3a1a)" style="fill: none; stroke: #82a6fb; stroke-width: 1.5; stroke-linecap: square"/>
</g>
<g id="line2d_86">
<path d="M 59.556822 82.27705  L 84.017096 94.732429  L 110.434192 103.556658  L 134.894466 116.192413  L 161.311562 132.165859  L 204.361644 158.4  L 251.32537 185.52" clip-path="url(#p1a0d5e3a1a)" style="fill: none; stroke: #8db0fe; stroke-width: 1.5; stroke-linecap: square"/>
</g>
<g id="line2d_87">
<path d="M 59.556822 84.062789  L 84.017096 99.701926  L 110.434192 112.727305  L 134.894466 128.774489  L 161.311562 146.186965  L 204.361644 176.4  L 251.32537 203.04" clip-path="url(#p1a0d5e3a1a)" style="fill: none; stroke: #8db0fe; stroke-width: 1.5; stroke-linecap: square"/>
</g>
<g id="line2d_88">
<path d="M 59.556822 83.540447  L 84.017096 95.062786  L 110.434192 112.367597  L 134.894466 118.513601  L 161.311562 132.365907  L 204.361644 146.403888  L 251.32537 173.28  L 297.310685 193.44" clip-path="url(#p1a0d5e3a1a)" style="fill: none; stroke: #8db0fe; stroke-width: 1.5; stroke-linecap: square"/>
</g>
<g id="line2d_89">
<path d="M 59.556822 86.211351  L 84.017096 97.759337  L 110.434192 108.865259  L 134.894466 116.337485  L 161.311562 123.426792  L 204.361644 129.593591  L 251.32537 135.539207  L 297.310685 140.008907  L 341.339178 143.002847" clip-path="url(#p1a0d5e3a1a)" style="fill: none; stroke: #8db0fe; stroke-width: 1.5; stroke-linecap: square"/>
</g>
<g id="line2d_90">
<path d="M 59.556822 84.453126  L 84.017096 86.425919  L 110.434192 88.728351  L 134.894466 90.060422  L 161.311562 94.068188  L 204.361644 96.748324  L 251.32537 99.564539  L 297.310685 103.985236  L 341.339178 106.8" clip-path="url(#p1a0d5e3a1a)" style="fill: none; stroke: #8db0fe; stroke-width: 1.5; stroke-linecap: square"/>
</g>
<g id="line2d_91">
<path d="M 59.556822 84.676974  L 84.017096 90.742586  L 110.434192 98.191717  L 134.894466 102.10698  L 161.311562 106.136031  L 204.361644 112.79226  L 251.32537 117.426965  L 297.310685 120.421932  L 341.339178 124.32" clip-path="url(#p1a0d5e3a1a)" style="fill: none; stroke: #8db0fe; stroke-width: 1.5; stroke-linecap: square"/>
</g>
<g id="line2d_92">
<path d="M 59.556822 84.398744  L 84.017096 91.905557  L 110.434192 97.829413  L 134.894466 101.778915  L 161.311562 108.302839  L 204.361644 114.907525  L 251.32537 125.442094  L 297.310685 129.32689  L 341.339178 137.058462" clip-path="url(#p1a0d5e3a1a)" style="fill: none; stroke: #8db0fe; stroke-width: 1.5; stroke-linecap: square"/>
</g>
<g id="line2d_93">
<path d="M 59.556822 84.447682  L 84.017096 91.917929  L 110.434192 98.403243  L 134.894466 101.999708  L 161.311562 108.180909  L 204.361644 112.97996  L 251.32537 120.302518  L 297.310685 129.618931  L 341.339178 134.458254" clip-path="url(#p1a0d5e3a1a)" style="fill: none; stroke: #8db0fe; stroke-width: 1.5; stroke-linecap: square"/>
</g>
<g id="line2d_94">
<path d="M 59.556822 82.794538  L 84.017096 88.244418  L 110.434192 94.2757  L 134.894466 98.55748  L 161.311562 102.680565  L 204.361644 114.552133  L 251.32537 125.998886  L 297.310685 136.631546  L 341.339178 147.348745" clip-path="url(#p1a0d5e3a1a)" style="fill: none; stroke: #8db0fe; stroke-width: 1.5; stroke-linecap: square"/>
</g>
<g id="line2d_95">
<path d="M 59.556822 84.907034  L 84.017096 94.776305  L 110.434192 104.846112  L 134.894466 113.942442  L 161.311562 124.971255  L 204.361644 141.84" clip-path="url(#p1a0d5e3a1a)" style="fill: none; stroke: #94b6ff; stroke-width: 1.5; stroke-linecap: square"/>
</g>
<g id="line2d_96">
<path d="M 59.556822 85.253103  L 84.017096 99.22876  L 110.434192 109.09767  L 134.894466 121.66019  L 161.311562 138.761975  L 204.361644 165.6  L 251.32537 194.88" clip-path="url(#p1a0d5e3a1a)" style="fill: none; stroke: #97b8ff; stroke-width: 1.5; stroke-linecap: square"/>
</g>
<g id="line2d_97">
<path d="M 59.556822 81.367833  L 84.017096 95.169524  L 110.434192 110.09333  L 134.894466 127.34119  L 161.311562 134.09017  L 204.361644 160.8  L 251.32537 180.96  L 297.310685 187.68  L 341.339178 211.2" clip-path="url(#p1a0d5e3a1a)" style="fill: none; stroke: #97b8ff; stroke-width: 1.5; stroke-linecap: square"/>
</g>
<g id="line2d_98">
<path d="M 59.556822 84.903385  L 84.017096 95.214835  L 110.434192 106.873245  L 134.894466 125.473728  L 161.311562 139.293473  L 204.361644 168  L 251.32537 196.92  L 297.310685 212.16  L 341.339178 233.928" clip-path="url(#p1a0d5e3a1a)" style="fill: none; stroke: #97b8ff; stroke-width: 1.5; stroke-linecap: square"/>
</g>
<g id="line2d_99">
<path d="M 59.556822 82.782909  L 84.017096 87.70793  L 110.434192 94.559961  L 134.894466 96.304699  L 161.311562 103.296369  L 204.361644 105.383149  L 251.32537 109.181847  L 297.310685 112.713573  L 341.339178 115.92" clip-path="url(#p1a0d5e3a1a)" style="fill: none; stroke: #97b8ff; stroke-width: 1.5; stroke-linecap: square"/>
</g>
<g id="line2d_100">
<path d="M 59.556822 87.788154  L 84.017096 100.292302  L 110.434192 106.24837  L 134.894466 112.061042  L 161.311562 119.616484  L 204.361644 126.328544  L 251.32537 136.002259  L 297.310685 140.922076  L 341.339178 148.8" clip-path="url(#p1a0d5e3a1a)" style="fill: none; stroke: #97b8ff; stroke-width: 1.5; stroke-linecap: square"/>
</g>
<g id="line2d_101">
<path d="M 59.556822 85.843478  L 84.017096 91.885406  L 110.434192 98.522011  L 134.894466 103.708134  L 161.311562 109.68" clip-path="url(#p1a0d5e3a1a)" style="fill: none; stroke: #9ebeff; stroke-width: 1.5; stroke-linecap: square"/>
</g>
<g id="line2d_102">
<path d="M 59.556822 88.4683  L 84.017096 99.855025  L 110.434192 109.73864  L 134.894466 125.417811  L 161.311562 151.19022  L 204.361644 209.28" clip-path="url(#p1a0d5e3a1a)" style="fill: none; stroke: #9ebeff; stroke-width: 1.5; stroke-linecap: square"/>
</g>
<g id="line2d_103">
<path d="M 59.556822 88.030773  L 84.017096 108.952175  L 110.434192 120.711063  L 134.894466 133.907423  L 161.311562 166.653355  L 204.361644 230.4" clip-path="url(#p1a0d5e3a1a)" style="fill: none; stroke: #9ebeff; stroke-width: 1.5; stroke-linecap: square"/>
</g>
<g id="line2d_104">
<path d="M 59.556822 81.358728  L 84.017096 95.095714  L 110.434192 105.825145  L 134.894466 119.840643  L 161.311562 137.054033  L 204.361644 168  L 251.32537 197.28" clip-path="url(#p1a0d5e3a1a)" style="fill: none; stroke: #9ebeff; stroke-width: 1.5; stroke-linecap: square"/>
</g>
<g id="line2d_105">
<path d="M 59.556822 85.355806  L 84.017096 102.215657  L 110.434192 113.400309  L 134.894466 132.972828  L 161.311562 148.29035  L 204.361644 182.4  L 251.32537 206.4" clip-path="url(#p1a0d5e3a1a)" style="fill: none; stroke: #9ebeff; stroke-width: 1.5; stroke-linecap: square"/>
</g>
<g id="line2d_106">
<path d="M 59.556822 83.559205  L 84.017096 94.399102  L 110.434192 105.342299  L 134.894466 114.075974  L 161.311562 122.55542  L 204.361644 137.919896  L 251.32537 157.2  L 297.310685 171.12" clip-path="url(#p1a0d5e3a1a)" style="fill: none; stroke: #9ebeff; stroke-width: 1.5; stroke-linecap: square"/>
</g>
<g id="line2d_107">
<path d="M 59.556822 84.286297  L 84.017096 92.130625  L 110.434192 97.982224  L 134.894466 109.867739  L 161.311562 115.321633  L 204.361644 137.072281  L 251.32537 150.340581  L 297.310685 162.416572  L 341.339178 180.24" clip-path="url(#p1a0d5e3a1a)" style="fill: none; stroke: #9ebeff; stroke-width: 1.5; stroke-linecap: square"/>
</g>
<g id="line2d_108">
<path d="M 59.556822 84.953105  L 84.017096 90.017197  L 110.434192 99.383001  L 134.894466 105.267839  L 161.311562 110.30326  L 204.361644 122.148631  L 251.32537 128.686495  L 297.310685 139.229144  L 341.339178 150" clip-path="url(#p1a0d5e3a1a)" style="fill: none; stroke: #9ebeff; stroke-width: 1.5; stroke-linecap: square"/>
</g>
<g id="line2d_109">
<path d="M 59.556822 84.539461  L 84.017096 84.75355  L 110.434192 84.987382  L 134.894466 83.511776  L 161.311562 85.041251  L 204.361644 84.585429  L 251.32537 86.030657  L 297.310685 85.709358  L 341.339178 85.8" clip-path="url(#p1a0d5e3a1a)" style="fill: none; stroke: #9ebeff; stroke-width: 1.5; stroke-linecap: square"/>
</g>
<g id="line2d_110">
<path d="M 59.556822 86.256405  L 84.017096 86.247256  L 110.434192 86.888735  L 134.894466 85.920581  L 161.311562 87.699066  L 204.361644 87.301795  L 251.32537 87.862607  L 297.310685 87.781794  L 341.339178 88.8" clip-path="url(#p1a0d5e3a1a)" style="fill: none; stroke: #9ebeff; stroke-width: 1.5; stroke-linecap: square"/>
</g>
<g id="line2d_111">
<path d="M 59.556822 87.387499  L 84.017096 88.729049  L 110.434192 90.461272  L 134.894466 90.969375  L 161.311562 92.956621  L 204.361644 93.288775  L 251.32537 96.902944  L 297.310685 97.570846  L 341.339178 99.84" clip-path="url(#p1a0d5e3a1a)" style="fill: none; stroke: #9ebeff; stroke-width: 1.5; stroke-linecap: square"/>
</g>
<g id="line2d_112">
<path d="M 59.556822 82.514568  L 84.017096 84.606575  L 110.434192 86.664149  L 134.894466 86.310645  L 161.311562 90.303449  L 204.361644 93.725669  L 251.32537 98.192779  L 297.310685 101.313266  L 341.339178 104.88" clip-path="url(#p1a0d5e3a1a)" style="fill: none; stroke: #9ebeff; stroke-width: 1.5; stroke-linecap: square"/>
</g>
<g id="line2d_113">
<path d="M 59.556822 85.497719  L 84.017096 87.853795  L 110.434192 90.952971  L 134.894466 92.037178  L 161.311562 95.562861  L 204.361644 98.886278  L 251.32537 102.331207  L 297.310685 105.314272  L 341.339178 107.76" clip-path="url(#p1a0d5e3a1a)" style="fill: none; stroke: #9ebeff; stroke-width: 1.5; stroke-linecap: square"/>
</g>
<g id="line2d_114">
<path d="M 59.556822 83.684898  L 84.017096 87.910202  L 110.434192 89.828228  L 134.894466 90.410993  L 161.311562 95.668182  L 204.361644 99.97689  L 251.32537 102.636651  L 297.310685 107.037876  L 341.339178 112.8" clip-path="url(#p1a0d5e3a1a)" style="fill: none; stroke: #9ebeff; stroke-width: 1.5; stroke-linecap: square"/>
</g>
<g id="line2d_115">
<path d="M 59.556822 85.32603  L 84.017096 88.51586  L 110.434192 90.596244  L 134.894466 92.842679  L 161.311562 95.746952  L 204.361644 100.721497  L 251.32537 104.905166  L 297.310685 109.651042  L 341.339178 114.72" clip-path="url(#p1a0d5e3a1a)" style="fill: none; stroke: #9ebeff; stroke-width: 1.5; stroke-linecap: square"/>
</g>
<g id="line2d_116">
<path d="M 59.556822 85.274072  L 84.017096 90.101675  L 110.434192 95.998328  L 134.894466 99.210152  L 161.311562 102.490603  L 204.361644 105.708695  L 251.32537 111.690968  L 297.310685 115.976725  L 341.339178 119.04" clip-path="url(#p1a0d5e3a1a)" style="fill: none; stroke: #9ebeff; stroke-width: 1.5; stroke-linecap: square"/>
</g>
<g id="line2d_117">
<path d="M 59.556822 85.091419  L 84.017096 90.045366  L 110.434192 91.97486  L 134.894466 96.740167  L 161.311562 101.252705  L 204.361644 109.695642  L 251.32537 120.305266  L 297.310685 128.423362  L 341.339178 136.08" clip-path="url(#p1a0d5e3a1a)" style="fill: none; stroke: #9ebeff; stroke-width: 1.5; stroke-linecap: square"/>
</g>
<g id="line2d_118">
<path d="M 59.556822 85.891263  L 84.017096 89.814773  L 110.434192 95.758436  L 134.894466 97.384972  L 161.311562 104.961856  L 204.361644 112.465808  L 251.32537 123.049786  L 297.310685 131.471127  L 341.339178 140.164766" clip-path="url(#p1a0d5e3a1a)" style="fill: none; stroke: #9ebeff; stroke-width: 1.5; stroke-linecap: square"/>
</g>
<g id="line2d_119">
<path d="M 59.556822 84.877627  L 84.017096 90.158728  L 110.434192 97.24443  L 134.894466 100.796684  L 161.311562 107.670134  L 204.361644 116.779431  L 251.32537 123.910203  L 297.310685 131.966014  L 341.339178 138.574549" clip-path="url(#p1a0d5e3a1a)" style="fill: none; stroke: #9ebeff; stroke-width: 1.5; stroke-linecap: square"/>
</g>
<g id="line2d_120">
<path d="M 59.556822 85.033492  L 84.017096 104.013233  L 110.434192 111.121743  L 134.894466 129.027613  L 161.311562 147.39111  L 204.361644 175.2  L 251.32537 205.2  L 297.310685 213.264  L 341.339178 240.6" clip-path="url(#p1a0d5e3a1a)" style="fill: none; stroke: #a2c1ff; stroke-width: 1.5; stroke-linecap: square"/>
</g>
<g id="line2d_121">
<path d="M 59.556822 85.59187  L 84.017096 86.762224  L 110.434192 86.507202  L 134.894466 86.425286  L 161.311562 87.173024  L 204.361644 87.583532  L 251.32537 89.100578  L 297.310685 90.069947  L 341.339178 91.2" clip-path="url(#p1a0d5e3a1a)" style="fill: none; stroke: #a5c3fe; stroke-width: 1.5; stroke-linecap: square"/>
</g>
<g id="line2d_122">
<path d="M 59.556822 85.878219  L 84.017096 97.028722  L 110.434192 108.968435  L 134.894466 117.125221  L 161.311562 131.525478  L 204.361644 157.2  L 251.32537 181.68" clip-path="url(#p1a0d5e3a1a)" style="fill: none; stroke: #a9c6fd; stroke-width: 1.5; stroke-linecap: square"/>
</g>
<g id="line2d_123">
<path d="M 59.556822 84.34096  L 84.017096 86.370657  L 110.434192 88.282383  L 134.894466 90.380904  L 161.311562 93.799106  L 204.361644 96.170672  L 251.32537 99.604605  L 297.310685 102.837051  L 341.339178 105.84" clip-path="url(#p1a0d5e3a1a)" style="fill: none; stroke: #a9c6fd; stroke-width: 1.5; stroke-linecap: square"/>
</g>
<g id="line2d_124">
<path d="M 59.556822 85.125032  L 84.017096 88.201957  L 110.434192 91.488475  L 134.894466 91.835343  L 161.311562 96.265057  L 204.361644 100.053164  L 251.32537 105.67296  L 297.310685 111.977574  L 341.339178 116.88" clip-path="url(#p1a0d5e3a1a)" style="fill: none; stroke: #a9c6fd; stroke-width: 1.5; stroke-linecap: square"/>
</g>
<g id="line2d_125">
<path d="M 59.556822 84.120012  L 84.017096 88.589688  L 110.434192 91.785113  L 134.894466 94.121732  L 161.311562 98.447681  L 204.361644 103.760006  L 251.32537 108.991705  L 297.310685 114.806342  L 341.339178 120" clip-path="url(#p1a0d5e3a1a)" style="fill: none; stroke: #a9c6fd; stroke-width: 1.5; stroke-linecap: square"/>
</g>
<g id="line2d_126">
<path d="M 59.556822 82.917277  L 84.017096 88.76083  L 110.434192 92.891128  L 134.894466 94.789851  L 161.311562 101.778626  L 204.361644 105.706957  L 251.32537 114.453431  L 297.310685 118.512271  L 341.339178 123.6" clip-path="url(#p1a0d5e3a1a)" style="fill: none; stroke: #a9c6fd; stroke-width: 1.5; stroke-linecap: square"/>
</g>
<g id="line2d_127">
<path d="M 59.556822 84.257134  L 84.017096 88.709187  L 110.434192 95.40815  L 134.894466 98.728832  L 161.311562 105.004218  L 204.361644 114.464667  L 251.32537 123.887625  L 297.310685 135.430772  L 341.339178 143.907692" clip-path="url(#p1a0d5e3a1a)" style="fill: none; stroke: #a9c6fd; stroke-width: 1.5; stroke-linecap: square"/>
</g>
<g id="line2d_128">
<path d="M 59.556822 86.313953  L 84.017096 91.03727  L 110.434192 96.011171  L 134.894466 102.180625  L 161.311562 109.624223  L 204.361644 116.725323  L 251.32537 126.351728  L 297.310685 136.555978  L 341.339178 147.821538" clip-path="url(#p1a0d5e3a1a)" style="fill: none; stroke: #a9c6fd; stroke-width: 1.5; stroke-linecap: square"/>
</g>
<g id="line2d_129">
<path d="M 59.556822 87.222709  L 84.017096 96.596641  L 110.434192 101.779388  L 134.894466 108.706044  L 161.311562 115.362475  L 204.361644 119.875619  L 251.32537 127.337104  L 297.310685 130.377731  L 341.339178 137.529465" clip-path="url(#p1a0d5e3a1a)" style="fill: none; stroke: #a9c6fd; stroke-width: 1.5; stroke-linecap: square"/>
</g>
<g id="line2d_130">
<path d="M 59.556822 84.3456  L 84.017096 103.5648  L 110.434192 116.8704  L 134.894466 137.42016" clip-path="url(#p1a0d5e3a1a)" style="fill: none; stroke: #afcafc; stroke-width: 1.5; stroke-linecap: square"/>
</g>
<g id="line2d_131">
<path d="M 59.556822 85.478971  L 84.017096 97.832184  L 110.434192 109.993202  L 134.894466 119.120593  L 161.311562 136.797124  L 204.361644 164.88" clip-path="url(#p1a0d5e3a1a)" style="fill: none; stroke: #afcafc; stroke-width: 1.5; stroke-linecap: square"/>
</g>
<g id="line2d_132">
<path d="M 59.556822 85.757012  L 84.017096 96.48084  L 110.434192 105.091457  L 134.894466 112.623648  L 161.311562 124.077855  L 204.361644 144  L 251.32537 164.88" clip-path="url(#p1a0d5e3a1a)" style="fill: none; stroke: #afcafc; stroke-width: 1.5; stroke-linecap: square"/>
</g>
<g id="line2d_133">
<path d="M 59.556822 83.757624  L 84.017096 98.067179  L 110.434192 117.706211  L 134.894466 123.91203  L 161.311562 147.02051  L 204.361644 178.32  L 251.32537 248.76" clip-path="url(#p1a0d5e3a1a)" style="fill: none; stroke: #afcafc; stroke-width: 1.5; stroke-linecap: square"/>
</g>
<g id="line2d_134">
<path d="M 59.556822 87.26559  L 84.017096 91.320907  L 110.434192 112.860129  L 134.894466 118.819324  L 161.311562 129.916578  L 204.361644 146.559691  L 251.32537 166.08  L 297.310685 184.8  L 341.339178 198.96" clip-path="url(#p1a0d5e3a1a)" style="fill: none; stroke: #afcafc; stroke-width: 1.5; stroke-linecap: square"/>
</g>
<g id="line2d_135">
<path d="M 59.556822 87.137121  L 84.017096 96.091554  L 110.434192 103.395032  L 134.894466 107.06147  L 161.311562 114.902701  L 204.361644 118.371983  L 251.32537 125.796942  L 297.310685 127.635746  L 341.339178 133.2" clip-path="url(#p1a0d5e3a1a)" style="fill: none; stroke: #afcafc; stroke-width: 1.5; stroke-linecap: square"/>
</g>
<g id="line2d_136">
<path d="M 59.556822 82.7835  L 84.017096 90.20614  L 110.434192 98.81049  L 134.894466 107.571384  L 161.311562 116.16" clip-path="url(#p1a0d5e3a1a)" style="fill: none; stroke: #b6cefa; stroke-width: 1.5; stroke-linecap: square"/>
</g>
<g id="line2d_137">
<path d="M 59.556822 84.192687  L 84.017096 91.062664  L 110.434192 96.846716  L 134.894466 101.98017  L 161.311562 112.177913  L 204.361644 115.749482  L 251.32537 134.166889  L 297.310685 145.745865  L 341.339178 157.92" clip-path="url(#p1a0d5e3a1a)" style="fill: none; stroke: #bad0f8; stroke-width: 1.5; stroke-linecap: square"/>
</g>
<g id="line2d_138">
<path d="M 59.556822 86.509178  L 84.017096 93.565595  L 110.434192 99.570687  L 134.894466 104.590071  L 161.311562 113.419182  L 204.361644 122.982369  L 251.32537 135.597856  L 297.310685 148.72931  L 341.339178 159.6" clip-path="url(#p1a0d5e3a1a)" style="fill: none; stroke: #bad0f8; stroke-width: 1.5; stroke-linecap: square"/>
</g>
<g id="line2d_139">
<path d="M 59.556822 80.699949  L 84.017096 93.543652  L 110.434192 105.422086  L 134.894466 120.545567  L 161.311562 134.947181  L 204.361644 165.6  L 251.32537 187.92" clip-path="url(#p1a0d5e3a1a)" style="fill: none; stroke: #c6d6f1; stroke-width: 1.5; stroke-linecap: square"/>
</g>
<g id="line2d_140">
<path d="M 59.556822 86.406677  L 84.017096 101.632336  L 110.434192 114.68712  L 134.894466 133.915244  L 161.311562 155.817332  L 204.361644 187.92  L 251.32537 204.72" clip-path="url(#p1a0d5e3a1a)" style="fill: none; stroke: #c6d6f1; stroke-width: 1.5; stroke-linecap: square"/>
</g>
<g id="line2d_141">
<path d="M 59.556822 86.155843  L 84.017096 104.284513  L 110.434192 118.068486  L 134.894466 136.649676  L 161.311562 155.544941  L 204.361644 193.92  L 251.32537 210.48" clip-path="url(#p1a0d5e3a1a)" style="fill: none; stroke: #c6d6f1; stroke-width: 1.5; stroke-linecap: square"/>
</g>
<g id="line2d_142">
<path d="M 59.556822 88.895805  L 84.017096 93.968665  L 110.434192 101.30186  L 134.894466 103.862845  L 161.311562 112.039445  L 204.361644 125.691803  L 251.32537 132.460445  L 297.310685 144.177732  L 341.339178 154.8" clip-path="url(#p1a0d5e3a1a)" style="fill: none; stroke: #c6d6f1; stroke-width: 1.5; stroke-linecap: square"/>
</g>
<g id="line2d_143">
<path d="M 59.556822 85.609775  L 84.017096 96.850566  L 110.434192 110.612122  L 134.894466 122.73044  L 161.311562 135.853333  L 204.361644 160.08" clip-path="url(#p1a0d5e3a1a)" style="fill: none; stroke: #cad8ef; stroke-width: 1.5; stroke-linecap: square"/>
</g>
<g id="line2d_144">
<path d="M 59.556822 85.824  L 84.017096 102.0864  L 110.434192 115.392  L 134.894466 136.0896  L 161.311562 184.8768  L 204.361644 254.76" clip-path="url(#p1a0d5e3a1a)" style="fill: none; stroke: #cfdaea; stroke-width: 1.5; stroke-linecap: square"/>
</g>
<g id="line2d_145">
<path d="M 59.556822 85.824  L 84.017096 93.216  L 110.434192 99.1296  L 134.894466 102.0864  L 161.311562 105.48672  L 204.361644 107.2608  L 251.32537 104.304  L 297.310685 109.4784  L 341.339178 113.61792" clip-path="url(#p1a0d5e3a1a)" style="fill: none; stroke: #cfdaea; stroke-width: 1.5; stroke-linecap: square"/>
</g>
<g id="line2d_146">
<path d="M 59.556822 88.863837  L 84.017096 102.811268  L 110.434192 112.950867  L 134.894466 123.289116  L 161.311562 142.32" clip-path="url(#p1a0d5e3a1a)" style="fill: none; stroke: #d5dbe5; stroke-width: 1.5; stroke-linecap: square"/>
</g>
<g id="line2d_147">
<path d="M 59.556822 85.75866  L 84.017096 96.091099  L 110.434192 105.877078  L 134.894466 120.390174  L 161.311562 137.7564  L 204.361644 168.48" clip-path="url(#p1a0d5e3a1a)" style="fill: none; stroke: #d5dbe5; stroke-width: 1.5; stroke-linecap: square"/>
</g>
<g id="line2d_148">
<path d="M 59.556822 82.185861  L 84.017096 93.110889  L 110.434192 104.016403  L 134.894466 114.668189  L 161.311562 126.205663  L 204.361644 153.6  L 251.32537 174.72" clip-path="url(#p1a0d5e3a1a)" style="fill: none; stroke: #d5dbe5; stroke-width: 1.5; stroke-linecap: square"/>
</g>
<g id="line2d_149">
<path d="M 59.556822 84.3456  L 84.017096 97.6512  L 110.434192 107.2608  L 134.894466 88.18944  L 161.311562 105.19104  L 204.361644 100.31232  L 251.32537 141.55968" clip-path="url(#p1a0d5e3a1a)" style="fill: none; stroke: #d5dbe5; stroke-width: 1.5; stroke-linecap: square"/>
</g>
<g id="line2d_150">
<path d="M 59.556822 77.6928  L 84.017096 85.824  L 110.434192 89.52  L 134.894466 90.2592  L 161.311562 93.216  L 204.361644 100.31232  L 251.32537 103.5648  L 297.310685 108.7392  L 341.339178 103.86048" clip-path="url(#p1a0d5e3a1a)" style="fill: none; stroke: #d5dbe5; stroke-width: 1.5; stroke-linecap: square"/>
</g>
<g id="line2d_151">
<path d="M 59.556822 87.390899  L 84.017096 101.357897  L 110.434192 115.796867  L 134.894466 127.83044  L 161.311562 144.72" clip-path="url(#p1a0d5e3a1a)" style="fill: none; stroke: #dddcdc; stroke-width: 1.5; stroke-linecap: square"/>
</g>
<g id="line2d_152">
<path d="M 59.556822 83.913578  L 84.017096 99.707653  L 110.434192 111.825979  L 134.894466 123.817158  L 161.311562 147.12" clip-path="url(#p1a0d5e3a1a)" style="fill: none; stroke: #dddcdc; stroke-width: 1.5; stroke-linecap: square"/>
</g>
<g id="line2d_153">
<path d="M 59.556822 87.323223  L 84.017096 95.211442  L 110.434192 110.512505  L 134.894466 133.733548  L 161.311562 165.54491  L 204.361644 241.68" clip-path="url(#p1a0d5e3a1a)" style="fill: none; stroke: #dddcdc; stroke-width: 1.5; stroke-linecap: square"/>
</g>
<g id="line2d_154">
<path d="M 59.556822 85.033999  L 84.017096 96.636256  L 110.434192 110.094309  L 134.894466 120.49282  L 161.311562 139.566076  L 204.361644 169.2  L 251.32537 192.48" clip-path="url(#p1a0d5e3a1a)" style="fill: none; stroke: #dddcdc; stroke-width: 1.5; stroke-linecap: square"/>
</g>
<g id="line2d_155">
<path d="M 59.556822 84.112332  L 84.017096 98.074143  L 110.434192 115.012139  L 134.894466 121.144105  L 161.311562 133.644899  L 204.361644 158.4  L 251.32537 183.6  L 297.310685 222.96" clip-path="url(#p1a0d5e3a1a)" style="fill: none; stroke: #dddcdc; stroke-width: 1.5; stroke-linecap: square"/>
</g>
<g id="line2d_156">
<path d="M 59.556822 83.421479  L 84.017096 84.867194  L 110.434192 102.160248  L 134.894466 105.589704  L 161.311562 113.902163  L 204.361644 129.378225  L 251.32537 149.28  L 297.310685 159.84  L 341.339178 182.88" clip-path="url(#p1a0d5e3a1a)" style="fill: none; stroke: #dfdbd9; stroke-width: 1.5; stroke-linecap: square"/>
</g>
<g id="line2d_157">
<path d="M 59.556822 82.870443  L 84.017096 96.601573  L 110.434192 106.435343  L 134.894466 126.91377  L 161.311562 138.438597  L 204.361644 168  L 251.32537 190.8" clip-path="url(#p1a0d5e3a1a)" style="fill: none; stroke: #e4d9d2; stroke-width: 1.5; stroke-linecap: square"/>
</g>
<g id="line2d_158">
<path d="M 59.556822 87.136242  L 84.017096 103.575493  L 110.434192 104.81056  L 134.894466 124.545338  L 161.311562 136.841164  L 204.361644 153.6  L 251.32537 175.2  L 297.310685 223.44" clip-path="url(#p1a0d5e3a1a)" style="fill: none; stroke: #e4d9d2; stroke-width: 1.5; stroke-linecap: square"/>
</g>
<g id="line2d_159">
<path d="M 59.556822 84.3456  L 84.017096 109.77408  L 110.434192 130.76736  L 134.894466 148.80384  L 161.311562 173.0496  L 204.361644 237.36" clip-path="url(#p1a0d5e3a1a)" style="fill: none; stroke: #e7d7ce; stroke-width: 1.5; stroke-linecap: square"/>
</g>
<g id="line2d_160">
<path d="M 59.556822 84.455609  L 84.017096 92.84723  L 110.434192 103.035958  L 134.894466 117.304082  L 161.311562 133.371969  L 204.361644 171.12" clip-path="url(#p1a0d5e3a1a)" style="fill: none; stroke: #e9d5cb; stroke-width: 1.5; stroke-linecap: square"/>
</g>
<g id="line2d_161">
<path d="M 59.556822 83.896655  L 84.017096 95.139684  L 110.434192 105.549429  L 134.894466 121.254854  L 161.311562 141.349235  L 204.361644 191.28" clip-path="url(#p1a0d5e3a1a)" style="fill: none; stroke: #edd2c3; stroke-width: 1.5; stroke-linecap: square"/>
</g>
<g id="line2d_162">
<path d="M 59.556822 85.980138  L 84.017096 99.876434  L 110.434192 113.675704  L 134.894466 131.689218  L 161.311562 155.156632  L 204.361644 211.92" clip-path="url(#p1a0d5e3a1a)" style="fill: none; stroke: #edd2c3; stroke-width: 1.5; stroke-linecap: square"/>
</g>
<g id="line2d_163">
<path d="M 59.556822 82.611318  L 84.017096 95.891793  L 110.434192 112.762918  L 134.894466 133.586613  L 161.311562 163.823022  L 204.361644 228.72" clip-path="url(#p1a0d5e3a1a)" style="fill: none; stroke: #edd2c3; stroke-width: 1.5; stroke-linecap: square"/>
</g>
<g id="line2d_164">
<path d="M 59.556822 85.792265  L 84.017096 97.845233  L 110.434192 109.813447  L 134.894466 122.953492  L 161.311562 141.323308  L 204.361644 177.6" clip-path="url(#p1a0d5e3a1a)" style="fill: none; stroke: #efcfbf; stroke-width: 1.5; stroke-linecap: square"/>
</g>
<g id="line2d_165">
<path d="M 59.556822 83.10187  L 84.017096 93.591382  L 110.434192 102.375557  L 134.894466 111.839092  L 161.311562 124.32" clip-path="url(#p1a0d5e3a1a)" style="fill: none; stroke: #f2cbb7; stroke-width: 1.5; stroke-linecap: square"/>
</g>
<g id="line2d_166">
<path d="M 59.556822 85.833422  L 84.017096 91.595425  L 110.434192 104.164831  L 134.894466 116.067621  L 161.311562 138.611044  L 204.361644 184.32" clip-path="url(#p1a0d5e3a1a)" style="fill: none; stroke: #f2cbb7; stroke-width: 1.5; stroke-linecap: square"/>
</g>
<g id="line2d_167">
<path d="M 59.556822 85.630172  L 84.017096 97.676719  L 110.434192 104.368255  L 134.894466 118.716469  L 161.311562 139.300207  L 204.361644 187.2" clip-path="url(#p1a0d5e3a1a)" style="fill: none; stroke: #f2cbb7; stroke-width: 1.5; stroke-linecap: square"/>
</g>
<g id="line2d_168">
<path d="M 59.556822 82.035606  L 84.017096 93.346702  L 110.434192 107.062034  L 134.894466 126.785759  L 161.311562 155.071752  L 204.361644 213.6" clip-path="url(#p1a0d5e3a1a)" style="fill: none; stroke: #f2cbb7; stroke-width: 1.5; stroke-linecap: square"/>
</g>
<g id="line2d_169">
<path d="M 59.556822 85.945725  L 84.017096 101.734031  L 110.434192 119.309545  L 134.894466 132.506798  L 161.311562 152.55522  L 204.361644 189.84  L 251.32537 208.08" clip-path="url(#p1a0d5e3a1a)" style="fill: none; stroke: #f2cbb7; stroke-width: 1.5; stroke-linecap: square"/>
</g>
<g id="line2d_170">
<path d="M 59.556822 85.893499  L 84.017096 91.240805  L 110.434192 100.377929  L 134.894466 102.358996  L 161.311562 108  L 204.361644 122.634543  L 251.32537 135.150476  L 297.310685 149.958986  L 341.339178 165.84" clip-path="url(#p1a0d5e3a1a)" style="fill: none; stroke: #f2cbb7; stroke-width: 1.5; stroke-linecap: square"/>
</g>
<g id="line2d_171">
<path d="M 59.556822 81.23351  L 84.017096 90.862297  L 110.434192 104.312178  L 134.894466 122.08776  L 161.311562 144.733566  L 204.361644 186" clip-path="url(#p1a0d5e3a1a)" style="fill: none; stroke: #f4c6af; stroke-width: 1.5; stroke-linecap: square"/>
</g>
<g id="line2d_172">
<path d="M 59.556822 84.669434  L 84.017096 96.536119  L 110.434192 107.991587  L 134.894466 120.007035  L 161.311562 145.899928  L 204.361644 192" clip-path="url(#p1a0d5e3a1a)" style="fill: none; stroke: #f4c6af; stroke-width: 1.5; stroke-linecap: square"/>
</g>
<g id="line2d_173">
<path d="M 59.556822 85.446016  L 84.017096 93.692242  L 110.434192 99.335623  L 134.894466 108.355709  L 161.311562 110.88  L 204.361644 126.315446  L 251.32537 140.653747  L 297.310685 155.501159  L 341.339178 169.608" clip-path="url(#p1a0d5e3a1a)" style="fill: none; stroke: #f5c2aa; stroke-width: 1.5; stroke-linecap: square"/>
</g>
<g id="line2d_174">
<path d="M 59.556822 83.053342  L 84.017096 94.658928  L 110.434192 114.017057  L 134.894466 129.906366  L 161.311562 155.095562  L 204.361644 204" clip-path="url(#p1a0d5e3a1a)" style="fill: none; stroke: #f5c0a7; stroke-width: 1.5; stroke-linecap: square"/>
</g>
<g id="line2d_175">
<path d="M 59.556822 81.293437  L 84.017096 100.270112  L 110.434192 114.419887  L 134.894466 132" clip-path="url(#p1a0d5e3a1a)" style="fill: none; stroke: #f6bda2; stroke-width: 1.5; stroke-linecap: square"/>
</g>
<g id="line2d_176">
<path d="M 59.556822 82.534467  L 84.017096 97.724268  L 110.434192 111.816398  L 134.894466 131.094121  L 161.311562 151.524628  L 204.361644 193.2" clip-path="url(#p1a0d5e3a1a)" style="fill: none; stroke: #f7ba9f; stroke-width: 1.5; stroke-linecap: square"/>
</g>
<g id="line2d_177">
<path d="M 59.556822 84.833501  L 84.017096 100.323338  L 110.434192 115.181861  L 134.894466 135.79362  L 161.311562 170.684842  L 204.361644 222" clip-path="url(#p1a0d5e3a1a)" style="fill: none; stroke: #f7ba9f; stroke-width: 1.5; stroke-linecap: square"/>
</g>
<g id="line2d_178">
<path d="M 59.556822 85.006712  L 84.017096 101.194646  L 110.434192 115.154925  L 134.894466 121.935117  L 161.311562 135.196472  L 204.361644 158.4  L 251.32537 179.28  L 297.310685 194.28" clip-path="url(#p1a0d5e3a1a)" style="fill: none; stroke: #f7ba9f; stroke-width: 1.5; stroke-linecap: square"/>
</g>
<g id="line2d_179">
<path d="M 59.556822 87.190375  L 84.017096 97.780857  L 110.434192 110.924951  L 134.894466 125.994572  L 161.311562 146.279807  L 204.361644 196.32" clip-path="url(#p1a0d5e3a1a)" style="fill: none; stroke: #f7b396; stroke-width: 1.5; stroke-linecap: square"/>
</g>
<g id="line2d_180">
<path d="M 59.556822 85.571051  L 84.017096 91.431119  L 110.434192 105.894613  L 134.894466 121.859737  L 161.311562 147.357125  L 204.361644 202.08" clip-path="url(#p1a0d5e3a1a)" style="fill: none; stroke: #f7b396; stroke-width: 1.5; stroke-linecap: square"/>
</g>
<g id="line2d_181">
<path d="M 59.556822 87.739919  L 84.017096 99.694098  L 110.434192 116.863282  L 134.894466 128.740067  L 161.311562 147.757109  L 204.361644 182.4" clip-path="url(#p1a0d5e3a1a)" style="fill: none; stroke: #f7b396; stroke-width: 1.5; stroke-linecap: square"/>
</g>
<g id="line2d_182">
<path d="M 59.556822 84.431851  L 84.017096 90.292532  L 110.434192 109.339485  L 134.894466 118.792277  L 161.311562 126.402891  L 204.361644 142.093619  L 251.32537 158.16  L 297.310685 174.96" clip-path="url(#p1a0d5e3a1a)" style="fill: none; stroke: #f7b396; stroke-width: 1.5; stroke-linecap: square"/>
</g>
<g id="line2d_183">
<path d="M 59.556822 84.255818  L 84.017096 87.874428  L 110.434192 95.04  L 134.894466 100.36517  L 161.311562 105.84  L 204.361644 121.158837  L 251.32537 136.886132  L 297.310685 145.536716  L 341.339178 161.928" clip-path="url(#p1a0d5e3a1a)" style="fill: none; stroke: #f7b396; stroke-width: 1.5; stroke-linecap: square"/>
</g>
<g id="line2d_184">
<path d="M 59.556822 85.217999  L 84.017096 98.688623  L 110.434192 109.63711  L 134.894466 120.777175  L 161.311562 137.28" clip-path="url(#p1a0d5e3a1a)" style="fill: none; stroke: #f7ac8e; stroke-width: 1.5; stroke-linecap: square"/>
</g>
<g id="line2d_185">
<path d="M 59.556822 84.798818  L 84.017096 100.062241  L 110.434192 109.001697  L 134.894466 133.318006  L 161.311562 160.122922  L 204.361644 223.92" clip-path="url(#p1a0d5e3a1a)" style="fill: none; stroke: #f7ac8e; stroke-width: 1.5; stroke-linecap: square"/>
</g>
<g id="line2d_186">
<path d="M 59.556822 83.200813  L 84.017096 95.462447  L 110.434192 106.743174  L 134.894466 123.775108  L 161.311562 149.269178  L 204.361644 199.2" clip-path="url(#p1a0d5e3a1a)" style="fill: none; stroke: #f7ac8e; stroke-width: 1.5; stroke-linecap: square"/>
</g>
<g id="line2d_187">
<path d="M 59.556822 85.011004  L 84.017096 87.185873  L 110.434192 112.315702  L 134.894466 130.858016  L 161.311562 162.526629  L 204.361644 226.8" clip-path="url(#p1a0d5e3a1a)" style="fill: none; stroke: #f7ac8e; stroke-width: 1.5; stroke-linecap: square"/>
</g>
<g id="line2d_188">
<path d="M 59.556822 88.007402  L 84.017096 93.271577  L 110.434192 107.774587  L 134.894466 112.193423  L 161.311562 125.175893  L 204.361644 142.000643  L 251.32537 156  L 297.310685 172.32" clip-path="url(#p1a0d5e3a1a)" style="fill: none; stroke: #f7ac8e; stroke-width: 1.5; stroke-linecap: square"/>
</g>
<g id="line2d_189">
<path d="M 59.556822 83.967308  L 84.017096 99.148796  L 110.434192 109.63578  L 134.894466 115.750649  L 161.311562 137.772699  L 204.361644 160.8  L 251.32537 182.88  L 297.310685 204" clip-path="url(#p1a0d5e3a1a)" style="fill: none; stroke: #f7ac8e; stroke-width: 1.5; stroke-linecap: square"/>
</g>
<g id="line2d_190">
<path d="M 59.556822 83.870127  L 84.017096 97.654698  L 110.434192 110.522568  L 134.894466 124.08" clip-path="url(#p1a0d5e3a1a)" style="fill: none; stroke: #f6a586; stroke-width: 1.5; stroke-linecap: square"/>
</g>
<g id="line2d_191">
<path d="M 59.556822 84.244437  L 84.017096 101.26641  L 110.434192 112.689281  L 134.894466 129.780877  L 161.311562 157.68" clip-path="url(#p1a0d5e3a1a)" style="fill: none; stroke: #f6a586; stroke-width: 1.5; stroke-linecap: square"/>
</g>
<g id="line2d_192">
<path d="M 59.556822 85.824  L 84.017096 112.13952  L 110.434192 120.5664  L 134.894466 134.6112  L 161.311562 152.4" clip-path="url(#p1a0d5e3a1a)" style="fill: none; stroke: #f6a586; stroke-width: 1.5; stroke-linecap: square"/>
</g>
<g id="line2d_193">
<path d="M 59.556822 85.228248  L 84.017096 98.348375  L 110.434192 111.139729  L 134.894466 125.172621  L 161.311562 143.324495  L 204.361644 174.48" clip-path="url(#p1a0d5e3a1a)" style="fill: none; stroke: #f6a586; stroke-width: 1.5; stroke-linecap: square"/>
</g>
<g id="line2d_194">
<path d="M 59.556822 86.102487  L 84.017096 100.794571  L 110.434192 113.382186  L 134.894466 134.160533  L 161.311562 156.486911  L 204.361644 208.8" clip-path="url(#p1a0d5e3a1a)" style="fill: none; stroke: #f6a586; stroke-width: 1.5; stroke-linecap: square"/>
</g>
<g id="line2d_195">
<path d="M 59.556822 80.67228  L 84.017096 94.112707  L 110.434192 103.392661  L 134.894466 115.506789  L 161.311562 130.550781  L 204.361644 156  L 251.32537 178.56" clip-path="url(#p1a0d5e3a1a)" style="fill: none; stroke: #f6a283; stroke-width: 1.5; stroke-linecap: square"/>
</g>
<g id="line2d_196">
<path d="M 59.556822 85.166775  L 84.017096 96.224116  L 110.434192 112.646627  L 134.894466 130.076682  L 161.311562 158.107306  L 204.361644 217.2" clip-path="url(#p1a0d5e3a1a)" style="fill: none; stroke: #f59d7e; stroke-width: 1.5; stroke-linecap: square"/>
</g>
<g id="line2d_197">
<path d="M 59.556822 83.576446  L 84.017096 101.080766  L 110.434192 116.218847  L 134.894466 134.737976  L 161.311562 162" clip-path="url(#p1a0d5e3a1a)" style="fill: none; stroke: #f4987a; stroke-width: 1.5; stroke-linecap: square"/>
</g>
<g id="line2d_198">
<path d="M 59.556822 84.347806  L 84.017096 104.506967  L 110.434192 120.950064  L 134.894466 143.359659  L 161.311562 167.605834  L 204.361644 210" clip-path="url(#p1a0d5e3a1a)" style="fill: none; stroke: #f4987a; stroke-width: 1.5; stroke-linecap: square"/>
</g>
<g id="line2d_199">
<path d="M 59.556822 82.788283  L 84.017096 97.048299  L 110.434192 121.476755  L 134.894466 141.316114  L 161.311562 168.981071  L 204.361644 215.52" clip-path="url(#p1a0d5e3a1a)" style="fill: none; stroke: #f4987a; stroke-width: 1.5; stroke-linecap: square"/>
</g>
<g id="line2d_200">
<path d="M 59.556822 83.294418  L 84.017096 93.794345  L 110.434192 110.24919  L 134.894466 133.78667  L 161.311562 171.328404  L 204.361644 251.04" clip-path="url(#p1a0d5e3a1a)" style="fill: none; stroke: #f4987a; stroke-width: 1.5; stroke-linecap: square"/>
</g>
<g id="line2d_201">
<path d="M 59.556822 83.062496  L 84.017096 94.39017  L 110.434192 106.562858  L 134.894466 130.477531  L 161.311562 156.977601  L 204.361644 219.6" clip-path="url(#p1a0d5e3a1a)" style="fill: none; stroke: #f39577; stroke-width: 1.5; stroke-linecap: square"/>
</g>
<g id="line2d_202">
<path d="M 59.556822 85.344396  L 84.017096 106.01983  L 110.434192 117.972707  L 134.894466 132.246296  L 161.311562 166.08" clip-path="url(#p1a0d5e3a1a)" style="fill: none; stroke: #f18d6f; stroke-width: 1.5; stroke-linecap: square"/>
</g>
<g id="line2d_203">
<path d="M 59.556822 82.894516  L 84.017096 94.890718  L 110.434192 108.489473  L 134.894466 129.482068  L 161.311562 162.754959  L 204.361644 246" clip-path="url(#p1a0d5e3a1a)" style="fill: none; stroke: #f18d6f; stroke-width: 1.5; stroke-linecap: square"/>
</g>
<g id="line2d_204">
<path d="M 59.556822 84.646999  L 84.017096 99.616959  L 110.434192 113.072483  L 134.894466 126.520663  L 161.311562 154.184549  L 204.361644 207.36" clip-path="url(#p1a0d5e3a1a)" style="fill: none; stroke: #ee8468; stroke-width: 1.5; stroke-linecap: square"/>
</g>
<g id="line2d_205">
<path d="M 59.556822 85.126323  L 84.017096 100.768602  L 110.434192 113.707053  L 134.894466 125.412296  L 161.311562 162.48  L 204.361644 180.24" clip-path="url(#p1a0d5e3a1a)" style="fill: none; stroke: #ee8468; stroke-width: 1.5; stroke-linecap: square"/>
</g>
<g id="line2d_206">
<path d="M 59.556822 84.908425  L 84.017096 105.446964  L 110.434192 118.091855  L 134.894466 136.306204  L 161.311562 168" clip-path="url(#p1a0d5e3a1a)" style="fill: none; stroke: #ee8468; stroke-width: 1.5; stroke-linecap: square"/>
</g>
<g id="line2d_207">
<path d="M 59.556822 84.430782  L 84.017096 103.851022  L 110.434192 119.388861  L 134.894466 134.048679  L 161.311562 165.6" clip-path="url(#p1a0d5e3a1a)" style="fill: none; stroke: #ea7b60; stroke-width: 1.5; stroke-linecap: square"/>
</g>
<g id="line2d_208">
<path d="M 59.556822 85.794185  L 84.017096 107.371725  L 110.434192 123.070983  L 134.894466 141.066912  L 161.311562 176.4" clip-path="url(#p1a0d5e3a1a)" style="fill: none; stroke: #e57058; stroke-width: 1.5; stroke-linecap: square"/>
</g>
<g id="line2d_209">
<path d="M 59.556822 85.97292  L 84.017096 105.949994  L 110.434192 121.943209  L 134.894466 137.055261  L 161.311562 169.68" clip-path="url(#p1a0d5e3a1a)" style="fill: none; stroke: #e36c55; stroke-width: 1.5; stroke-linecap: square"/>
</g>
<g id="line2d_210">
<path d="M 59.556822 85.522342  L 84.017096 106.731723  L 110.434192 117.586727  L 134.894466 135.587627  L 161.311562 171.6" clip-path="url(#p1a0d5e3a1a)" style="fill: none; stroke: #e16751; stroke-width: 1.5; stroke-linecap: square"/>
</g>
<g id="line2d_211">
<path d="M 59.556822 83.832248  L 84.017096 107.889906  L 110.434192 122.759997  L 134.894466 143.450741  L 161.311562 184.8" clip-path="url(#p1a0d5e3a1a)" style="fill: none; stroke: #df634e; stroke-width: 1.5; stroke-linecap: square"/>
</g>
<g id="line2d_212">
<path d="M 59.556822 85.410069  L 84.017096 111.416106  L 110.434192 124.693891  L 134.894466 143.715815  L 161.311562 188.88" clip-path="url(#p1a0d5e3a1a)" style="fill: none; stroke: #dc5d4a; stroke-width: 1.5; stroke-linecap: square"/>
</g>
<g id="line2d_213">
<path d="M 59.556822 82.8672  L 84.017096 105.0432  L 110.434192 118.3488  L 134.894466 141.264  L 161.311562 196.704  L 204.361644 269.76" clip-path="url(#p1a0d5e3a1a)" style="fill: none; stroke: #dc5d4a; stroke-width: 1.5; stroke-linecap: square"/>
</g>
<g id="line2d_214">
<path d="M 59.556822 85.206301  L 84.017096 108.576888  L 110.434192 124.997173  L 134.894466 141.898462  L 161.311562 182.88" clip-path="url(#p1a0d5e3a1a)" style="fill: none; stroke: #d95847; stroke-width: 1.5; stroke-linecap: square"/>
</g>
<g id="line2d_215">
<path d="M 59.556822 84.171931  L 84.017096 106.032411  L 110.434192 119.649283  L 134.894466 137.009526  L 161.311562 174.72" clip-path="url(#p1a0d5e3a1a)" style="fill: none; stroke: #d65244; stroke-width: 1.5; stroke-linecap: square"/>
</g>
<g id="line2d_216">
<path d="M 59.556822 88.017405  L 84.017096 108.369196  L 110.434192 125.588715  L 134.894466 142.616351  L 161.311562 179.28" clip-path="url(#p1a0d5e3a1a)" style="fill: none; stroke: #d65244; stroke-width: 1.5; stroke-linecap: square"/>
</g>
<g id="line2d_217">
<path d="M 59.556822 83.003054  L 84.017096 107.779128  L 110.434192 120.767373  L 134.894466 138.865113  L 161.311562 181.2" clip-path="url(#p1a0d5e3a1a)" style="fill: none; stroke: #d44e41; stroke-width: 1.5; stroke-linecap: square"/>
</g>
<g id="line2d_218">
<path d="M 59.556822 86.556198  L 84.017096 109.537731  L 110.434192 123.097635  L 134.894466 141.050912  L 161.311562 177.6" clip-path="url(#p1a0d5e3a1a)" style="fill: none; stroke: #d0473d; stroke-width: 1.5; stroke-linecap: square"/>
</g>
<g id="line2d_219">
<path d="M 59.556822 83.54791  L 84.017096 105.515497  L 110.434192 115.997971  L 134.894466 134.682193  L 161.311562 171.84  L 204.361644 234.6" clip-path="url(#p1a0d5e3a1a)" style="fill: none; stroke: #cc403a; stroke-width: 1.5; stroke-linecap: square"/>
</g>
<g id="line2d_220">
<path d="M 59.556822 84.698129  L 84.017096 106.135268  L 110.434192 119.625228  L 134.894466 138" clip-path="url(#p1a0d5e3a1a)" style="fill: none; stroke: #c53334; stroke-width: 1.5; stroke-linecap: square"/>
</g>
<g id="line2d_221">
<path d="M 59.556822 82.732733  L 84.017096 109.034678  L 110.434192 125.309176  L 134.894466 145.68" clip-path="url(#p1a0d5e3a1a)" style="fill: none; stroke: #c53334; stroke-width: 1.5; stroke-linecap: square"/>
</g>
<g id="line2d_222">
<path d="M 59.556822 81.3888  L 84.017096 106.5216  L 110.434192 121.3056  L 134.894466 147.1776  L 161.311562 198.48" clip-path="url(#p1a0d5e3a1a)" style="fill: none; stroke: #be242e; stroke-width: 1.5; stroke-linecap: square"/>
</g>
<g id="line2d_223">
<path d="M 204.361644 115.2" clip-path="url(#p1a0d5e3a1a)" style="fill: none; stroke: #4f69d9; stroke-width: 1.5; stroke-linecap: square"/>
<defs>
<path id="m45325c0278" d="M 0 -3  L -3 3  L 3 3 
z
" style="stroke: #4f69d9; stroke-linejoin: miter"/>
</defs>
<g clip-path="url(#p1a0d5e3a1a)">
<use href="#m45325c0278" x="204.361644" y="115.2" style="fill: #4f69d9; stroke: #4f69d9; stroke-linejoin: miter"/>
</g>
</g>
<g id="line2d_224">
<path d="M 341.339178 170.28" clip-path="url(#p1a0d5e3a1a)" style="fill: none; stroke: #7093f3; stroke-width: 1.5; stroke-linecap: square"/>
<defs>
<path id="m14044d85e6" d="M 0 3  C 0.795609 3 1.55874 2.683901 2.12132 2.12132  C 2.683901 1.55874 3 0.795609 3 0  C 3 -0.795609 2.683901 -1.55874 2.12132 -2.12132  C 1.55874 -2.683901 0.795609 -3 0 -3  C -0.795609 -3 -1.55874 -2.683901 -2.12132 -2.12132  C -2.683901 -1.55874 -3 -0.795609 -3 0  C -3 0.795609 -2.683901 1.55874 -2.12132 2.12132  C -1.55874 2.683901 -0.795609 3 0 3 
z
" style="stroke: #7093f3"/>
</defs>
<g clip-path="url(#p1a0d5e3a1a)">
<use href="#m14044d85e6" x="341.339178" y="170.28" style="fill: #7093f3; stroke: #7093f3"/>
</g>
</g>
<g id="line2d_225">
<path d="M 297.310685 192.72" clip-path="url(#p1a0d5e3a1a)" style="fill: none; stroke: #7597f6; stroke-width: 1.5; stroke-linecap: square"/>
<defs>
<path id="meee62709a7" d="M 0 3  C 0.795609 3 1.55874 2.683901 2.12132 2.12132  C 2.683901 1.55874 3 0.795609 3 0  C 3 -0.795609 2.683901 -1.55874 2.12132 -2.12132  C 1.55874 -2.683901 0.795609 -3 0 -3  C -0.795609 -3 -1.55874 -2.683901 -2.12132 -2.12132  C -2.683901 -1.55874 -3 -0.795609 -3 0  C -3 0.795609 -2.683901 1.55874 -2.12132 2.12132  C -1.55874 2.683901 -0.795609 3 0 3 
z
" style="stroke: #7597f6"/>
</defs>
<g clip-path="url(#p1a0d5e3a1a)">
<use href="#meee62709a7" x="297.310685" y="192.72" style="fill: #7597f6; stroke: #7597f6"/>
</g>
</g>
<g id="line2d_226">
<path d="M 204.361644 123.6" clip-path="url(#p1a0d5e3a1a)" style="fill: none; stroke: #7b9ff9; stroke-width: 1.5; stroke-linecap: square"/>
<defs>
<path id="m975f177fa7" d="M 0 -3  L -3 3  L 3 3 
z
" style="stroke: #7b9ff9; stroke-linejoin: miter"/>
</defs>
<g clip-path="url(#p1a0d5e3a1a)">
<use href="#m975f177fa7" x="204.361644" y="123.6" style="fill: #7b9ff9; stroke: #7b9ff9; stroke-linejoin: miter"/>
</g>
</g>
<g id="line2d_227">
<path d="M 204.361644 159.12" clip-path="url(#p1a0d5e3a1a)" style="fill: none; stroke: #7b9ff9; stroke-width: 1.5; stroke-linecap: square"/>
<defs>
<path id="mada9465114" d="M 0 3  C 0.795609 3 1.55874 2.683901 2.12132 2.12132  C 2.683901 1.55874 3 0.795609 3 0  C 3 -0.795609 2.683901 -1.55874 2.12132 -2.12132  C 1.55874 -2.683901 0.795609 -3 0 -3  C -0.795609 -3 -1.55874 -2.683901 -2.12132 -2.12132  C -2.683901 -1.55874 -3 -0.795609 -3 0  C -3 0.795609 -2.683901 1.55874 -2.12132 2.12132  C -1.55874 2.683901 -0.795609 3 0 3 
z
" style="stroke: #7b9ff9"/>
</defs>
<g clip-path="url(#p1a0d5e3a1a)">
<use href="#mada9465114" x="204.361644" y="159.12" style="fill: #7b9ff9; stroke: #7b9ff9"/>
</g>
</g>
<g id="line2d_228">
<path d="M 251.32537 201.12" clip-path="url(#p1a0d5e3a1a)" style="fill: none; stroke: #7b9ff9; stroke-width: 1.5; stroke-linecap: square"/>
<g clip-path="url(#p1a0d5e3a1a)">
<use href="#mada9465114" x="251.32537" y="201.12" style="fill: #7b9ff9; stroke: #7b9ff9"/>
</g>
</g>
<g id="line2d_229">
<path d="M 251.32537 185.52" clip-path="url(#p1a0d5e3a1a)" style="fill: none; stroke: #8db0fe; stroke-width: 1.5; stroke-linecap: square"/>
<defs>
<path id="m7598d44154" d="M 0 3  C 0.795609 3 1.55874 2.683901 2.12132 2.12132  C 2.683901 1.55874 3 0.795609 3 0  C 3 -0.795609 2.683901 -1.55874 2.12132 -2.12132  C 1.55874 -2.683901 0.795609 -3 0 -3  C -0.795609 -3 -1.55874 -2.683901 -2.12132 -2.12132  C -2.683901 -1.55874 -3 -0.795609 -3 0  C -3 0.795609 -2.683901 1.55874 -2.12132 2.12132  C -1.55874 2.683901 -0.795609 3 0 3 
z
" style="stroke: #8db0fe"/>
</defs>
<g clip-path="url(#p1a0d5e3a1a)">
<use href="#m7598d44154" x="251.32537" y="185.52" style="fill: #8db0fe; stroke: #8db0fe"/>
</g>
</g>
<g id="line2d_230">
<path d="M 204.361644 141.84" clip-path="url(#p1a0d5e3a1a)" style="fill: none; stroke: #94b6ff; stroke-width: 1.5; stroke-linecap: square"/>
<defs>
<path id="m74a3787e10" d="M 0 -3  L -3 3  L 3 3 
z
" style="stroke: #94b6ff; stroke-linejoin: miter"/>
</defs>
<g clip-path="url(#p1a0d5e3a1a)">
<use href="#m74a3787e10" x="204.361644" y="141.84" style="fill: #94b6ff; stroke: #94b6ff; stroke-linejoin: miter"/>
</g>
</g>
<g id="line2d_231">
<path d="M 341.339178 211.2" clip-path="url(#p1a0d5e3a1a)" style="fill: none; stroke: #97b8ff; stroke-width: 1.5; stroke-linecap: square"/>
<defs>
<path id="m935df62525" d="M 0 3  C 0.795609 3 1.55874 2.683901 2.12132 2.12132  C 2.683901 1.55874 3 0.795609 3 0  C 3 -0.795609 2.683901 -1.55874 2.12132 -2.12132  C 1.55874 -2.683901 0.795609 -3 0 -3  C -0.795609 -3 -1.55874 -2.683901 -2.12132 -2.12132  C -2.683901 -1.55874 -3 -0.795609 -3 0  C -3 0.795609 -2.683901 1.55874 -2.12132 2.12132  C -1.55874 2.683901 -0.795609 3 0 3 
z
" style="stroke: #97b8ff"/>
</defs>
<g clip-path="url(#p1a0d5e3a1a)">
<use href="#m935df62525" x="341.339178" y="211.2" style="fill: #97b8ff; stroke: #97b8ff"/>
</g>
</g>
<g id="line2d_232">
<path d="M 341.339178 233.928" clip-path="url(#p1a0d5e3a1a)" style="fill: none; stroke: #97b8ff; stroke-width: 1.5; stroke-linecap: square"/>
<g clip-path="url(#p1a0d5e3a1a)">
<use href="#m935df62525" x="341.339178" y="233.928" style="fill: #97b8ff; stroke: #97b8ff"/>
</g>
</g>
<g id="line2d_233">
<path d="M 161.311562 109.68" clip-path="url(#p1a0d5e3a1a)" style="fill: none; stroke: #9ebeff; stroke-width: 1.5; stroke-linecap: square"/>
<defs>
<path id="mec47453d9a" d="M 0 -3  L -3 3  L 3 3 
z
" style="stroke: #9ebeff; stroke-linejoin: miter"/>
</defs>
<g clip-path="url(#p1a0d5e3a1a)">
<use href="#mec47453d9a" x="161.311562" y="109.68" style="fill: #9ebeff; stroke: #9ebeff; stroke-linejoin: miter"/>
</g>
</g>
<g id="line2d_234">
<path d="M 204.361644 209.28" clip-path="url(#p1a0d5e3a1a)" style="fill: none; stroke: #9ebeff; stroke-width: 1.5; stroke-linecap: square"/>
<defs>
<path id="ma80f083418" d="M 0 3  C 0.795609 3 1.55874 2.683901 2.12132 2.12132  C 2.683901 1.55874 3 0.795609 3 0  C 3 -0.795609 2.683901 -1.55874 2.12132 -2.12132  C 1.55874 -2.683901 0.795609 -3 0 -3  C -0.795609 -3 -1.55874 -2.683901 -2.12132 -2.12132  C -2.683901 -1.55874 -3 -0.795609 -3 0  C -3 0.795609 -2.683901 1.55874 -2.12132 2.12132  C -1.55874 2.683901 -0.795609 3 0 3 
z
" style="stroke: #9ebeff"/>
</defs>
<g clip-path="url(#p1a0d5e3a1a)">
<use href="#ma80f083418" x="204.361644" y="209.28" style="fill: #9ebeff; stroke: #9ebeff"/>
</g>
</g>
<g id="line2d_235">
<path d="M 204.361644 230.4" clip-path="url(#p1a0d5e3a1a)" style="fill: none; stroke: #9ebeff; stroke-width: 1.5; stroke-linecap: square"/>
<g clip-path="url(#p1a0d5e3a1a)">
<use href="#ma80f083418" x="204.361644" y="230.4" style="fill: #9ebeff; stroke: #9ebeff"/>
</g>
</g>
<g id="line2d_236">
<path d="M 251.32537 197.28" clip-path="url(#p1a0d5e3a1a)" style="fill: none; stroke: #9ebeff; stroke-width: 1.5; stroke-linecap: square"/>
<g clip-path="url(#p1a0d5e3a1a)">
<use href="#ma80f083418" x="251.32537" y="197.28" style="fill: #9ebeff; stroke: #9ebeff"/>
</g>
</g>
<g id="line2d_237">
<path d="M 297.310685 171.12" clip-path="url(#p1a0d5e3a1a)" style="fill: none; stroke: #9ebeff; stroke-width: 1.5; stroke-linecap: square"/>
<g clip-path="url(#p1a0d5e3a1a)">
<use href="#ma80f083418" x="297.310685" y="171.12" style="fill: #9ebeff; stroke: #9ebeff"/>
</g>
</g>
<g id="line2d_238">
<path d="M 341.339178 240.6" clip-path="url(#p1a0d5e3a1a)" style="fill: none; stroke: #a2c1ff; stroke-width: 1.5; stroke-linecap: square"/>
<defs>
<path id="me3aebdcf56" d="M 0 3  C 0.795609 3 1.55874 2.683901 2.12132 2.12132  C 2.683901 1.55874 3 0.795609 3 0  C 3 -0.795609 2.683901 -1.55874 2.12132 -2.12132  C 1.55874 -2.683901 0.795609 -3 0 -3  C -0.795609 -3 -1.55874 -2.683901 -2.12132 -2.12132  C -2.683901 -1.55874 -3 -0.795609 -3 0  C -3 0.795609 -2.683901 1.55874 -2.12132 2.12132  C -1.55874 2.683901 -0.795609 3 0 3 
z
" style="stroke: #a2c1ff"/>
</defs>
<g clip-path="url(#p1a0d5e3a1a)">
<use href="#me3aebdcf56" x="341.339178" y="240.6" style="fill: #a2c1ff; stroke: #a2c1ff"/>
</g>
</g>
<g id="line2d_239">
<path d="M 251.32537 181.68" clip-path="url(#p1a0d5e3a1a)" style="fill: none; stroke: #a9c6fd; stroke-width: 1.5; stroke-linecap: square"/>
<defs>
<path id="mb473fbbd29" d="M 0 3  C 0.795609 3 1.55874 2.683901 2.12132 2.12132  C 2.683901 1.55874 3 0.795609 3 0  C 3 -0.795609 2.683901 -1.55874 2.12132 -2.12132  C 1.55874 -2.683901 0.795609 -3 0 -3  C -0.795609 -3 -1.55874 -2.683901 -2.12132 -2.12132  C -2.683901 -1.55874 -3 -0.795609 -3 0  C -3 0.795609 -2.683901 1.55874 -2.12132 2.12132  C -1.55874 2.683901 -0.795609 3 0 3 
z
" style="stroke: #a9c6fd"/>
</defs>
<g clip-path="url(#p1a0d5e3a1a)">
<use href="#mb473fbbd29" x="251.32537" y="181.68" style="fill: #a9c6fd; stroke: #a9c6fd"/>
</g>
</g>
<g id="line2d_240">
<path d="M 134.894466 137.42016" clip-path="url(#p1a0d5e3a1a)" style="fill: none; stroke: #afcafc; stroke-width: 1.5; stroke-linecap: square"/>
<defs>
<path id="m36224615ae" d="M 0 -3  L -3 3  L 3 3 
z
" style="stroke: #afcafc; stroke-linejoin: miter"/>
</defs>
<g clip-path="url(#p1a0d5e3a1a)">
<use href="#m36224615ae" x="134.894466" y="137.42016" style="fill: #afcafc; stroke: #afcafc; stroke-linejoin: miter"/>
</g>
</g>
<g id="line2d_241">
<path d="M 204.361644 164.88" clip-path="url(#p1a0d5e3a1a)" style="fill: none; stroke: #afcafc; stroke-width: 1.5; stroke-linecap: square"/>
<g clip-path="url(#p1a0d5e3a1a)">
<use href="#m36224615ae" x="204.361644" y="164.88" style="fill: #afcafc; stroke: #afcafc; stroke-linejoin: miter"/>
</g>
</g>
<g id="line2d_242">
<path d="M 251.32537 164.88" clip-path="url(#p1a0d5e3a1a)" style="fill: none; stroke: #afcafc; stroke-width: 1.5; stroke-linecap: square"/>
<defs>
<path id="m5dfd6d8095" d="M 0 3  C 0.795609 3 1.55874 2.683901 2.12132 2.12132  C 2.683901 1.55874 3 0.795609 3 0  C 3 -0.795609 2.683901 -1.55874 2.12132 -2.12132  C 1.55874 -2.683901 0.795609 -3 0 -3  C -0.795609 -3 -1.55874 -2.683901 -2.12132 -2.12132  C -2.683901 -1.55874 -3 -0.795609 -3 0  C -3 0.795609 -2.683901 1.55874 -2.12132 2.12132  C -1.55874 2.683901 -0.795609 3 0 3 
z
" style="stroke: #afcafc"/>
</defs>
<g clip-path="url(#p1a0d5e3a1a)">
<use href="#m5dfd6d8095" x="251.32537" y="164.88" style="fill: #afcafc; stroke: #afcafc"/>
</g>
</g>
<g id="line2d_243">
<path d="M 251.32537 248.76" clip-path="url(#p1a0d5e3a1a)" style="fill: none; stroke: #afcafc; stroke-width: 1.5; stroke-linecap: square"/>
<g clip-path="url(#p1a0d5e3a1a)">
<use href="#m5dfd6d8095" x="251.32537" y="248.76" style="fill: #afcafc; stroke: #afcafc"/>
</g>
</g>
<g id="line2d_244">
<path d="M 161.311562 116.16" clip-path="url(#p1a0d5e3a1a)" style="fill: none; stroke: #b6cefa; stroke-width: 1.5; stroke-linecap: square"/>
<defs>
<path id="m5e22e99fe5" d="M 0 -3  L -3 3  L 3 3 
z
" style="stroke: #b6cefa; stroke-linejoin: miter"/>
</defs>
<g clip-path="url(#p1a0d5e3a1a)">
<use href="#m5e22e99fe5" x="161.311562" y="116.16" style="fill: #b6cefa; stroke: #b6cefa; stroke-linejoin: miter"/>
</g>
</g>
<g id="line2d_245">
<path d="M 251.32537 187.92" clip-path="url(#p1a0d5e3a1a)" style="fill: none; stroke: #c6d6f1; stroke-width: 1.5; stroke-linecap: square"/>
<defs>
<path id="m2040c1af69" d="M 0 3  C 0.795609 3 1.55874 2.683901 2.12132 2.12132  C 2.683901 1.55874 3 0.795609 3 0  C 3 -0.795609 2.683901 -1.55874 2.12132 -2.12132  C 1.55874 -2.683901 0.795609 -3 0 -3  C -0.795609 -3 -1.55874 -2.683901 -2.12132 -2.12132  C -2.683901 -1.55874 -3 -0.795609 -3 0  C -3 0.795609 -2.683901 1.55874 -2.12132 2.12132  C -1.55874 2.683901 -0.795609 3 0 3 
z
" style="stroke: #c6d6f1"/>
</defs>
<g clip-path="url(#p1a0d5e3a1a)">
<use href="#m2040c1af69" x="251.32537" y="187.92" style="fill: #c6d6f1; stroke: #c6d6f1"/>
</g>
</g>
<g id="line2d_246">
<path d="M 251.32537 204.72" clip-path="url(#p1a0d5e3a1a)" style="fill: none; stroke: #c6d6f1; stroke-width: 1.5; stroke-linecap: square"/>
<g clip-path="url(#p1a0d5e3a1a)">
<use href="#m2040c1af69" x="251.32537" y="204.72" style="fill: #c6d6f1; stroke: #c6d6f1"/>
</g>
</g>
<g id="line2d_247">
<path d="M 251.32537 210.48" clip-path="url(#p1a0d5e3a1a)" style="fill: none; stroke: #c6d6f1; stroke-width: 1.5; stroke-linecap: square"/>
<g clip-path="url(#p1a0d5e3a1a)">
<use href="#m2040c1af69" x="251.32537" y="210.48" style="fill: #c6d6f1; stroke: #c6d6f1"/>
</g>
</g>
<g id="line2d_248">
<path d="M 204.361644 160.08" clip-path="url(#p1a0d5e3a1a)" style="fill: none; stroke: #cad8ef; stroke-width: 1.5; stroke-linecap: square"/>
<defs>
<path id="mea5f6d952d" d="M 0 -3  L -3 3  L 3 3 
z
" style="stroke: #cad8ef; stroke-linejoin: miter"/>
</defs>
<g clip-path="url(#p1a0d5e3a1a)">
<use href="#mea5f6d952d" x="204.361644" y="160.08" style="fill: #cad8ef; stroke: #cad8ef; stroke-linejoin: miter"/>
</g>
</g>
<g id="line2d_249">
<path d="M 204.361644 254.76" clip-path="url(#p1a0d5e3a1a)" style="fill: none; stroke: #cfdaea; stroke-width: 1.5; stroke-linecap: square"/>
<defs>
<path id="mdff321a34d" d="M 0 3  C 0.795609 3 1.55874 2.683901 2.12132 2.12132  C 2.683901 1.55874 3 0.795609 3 0  C 3 -0.795609 2.683901 -1.55874 2.12132 -2.12132  C 1.55874 -2.683901 0.795609 -3 0 -3  C -0.795609 -3 -1.55874 -2.683901 -2.12132 -2.12132  C -2.683901 -1.55874 -3 -0.795609 -3 0  C -3 0.795609 -2.683901 1.55874 -2.12132 2.12132  C -1.55874 2.683901 -0.795609 3 0 3 
z
" style="stroke: #cfdaea"/>
</defs>
<g clip-path="url(#p1a0d5e3a1a)">
<use href="#mdff321a34d" x="204.361644" y="254.76" style="fill: #cfdaea; stroke: #cfdaea"/>
</g>
</g>
<g id="line2d_250">
<path d="M 161.311562 142.32" clip-path="url(#p1a0d5e3a1a)" style="fill: none; stroke: #d5dbe5; stroke-width: 1.5; stroke-linecap: square"/>
<defs>
<path id="m28d2f0c39d" d="M 0 -3  L -3 3  L 3 3 
z
" style="stroke: #d5dbe5; stroke-linejoin: miter"/>
</defs>
<g clip-path="url(#p1a0d5e3a1a)">
<use href="#m28d2f0c39d" x="161.311562" y="142.32" style="fill: #d5dbe5; stroke: #d5dbe5; stroke-linejoin: miter"/>
</g>
</g>
<g id="line2d_251">
<path d="M 204.361644 168.48" clip-path="url(#p1a0d5e3a1a)" style="fill: none; stroke: #d5dbe5; stroke-width: 1.5; stroke-linecap: square"/>
<defs>
<path id="m77c58b5e72" d="M 0 3  C 0.795609 3 1.55874 2.683901 2.12132 2.12132  C 2.683901 1.55874 3 0.795609 3 0  C 3 -0.795609 2.683901 -1.55874 2.12132 -2.12132  C 1.55874 -2.683901 0.795609 -3 0 -3  C -0.795609 -3 -1.55874 -2.683901 -2.12132 -2.12132  C -2.683901 -1.55874 -3 -0.795609 -3 0  C -3 0.795609 -2.683901 1.55874 -2.12132 2.12132  C -1.55874 2.683901 -0.795609 3 0 3 
z
" style="stroke: #d5dbe5"/>
</defs>
<g clip-path="url(#p1a0d5e3a1a)">
<use href="#m77c58b5e72" x="204.361644" y="168.48" style="fill: #d5dbe5; stroke: #d5dbe5"/>
</g>
</g>
<g id="line2d_252">
<path d="M 251.32537 174.72" clip-path="url(#p1a0d5e3a1a)" style="fill: none; stroke: #d5dbe5; stroke-width: 1.5; stroke-linecap: square"/>
<g clip-path="url(#p1a0d5e3a1a)">
<use href="#m77c58b5e72" x="251.32537" y="174.72" style="fill: #d5dbe5; stroke: #d5dbe5"/>
</g>
</g>
<g id="line2d_253">
<path d="M 251.32537 141.55968" clip-path="url(#p1a0d5e3a1a)" style="fill: none; stroke: #d5dbe5; stroke-width: 1.5; stroke-linecap: square"/>
<g clip-path="url(#p1a0d5e3a1a)">
<use href="#m77c58b5e72" x="251.32537" y="141.55968" style="fill: #d5dbe5; stroke: #d5dbe5"/>
</g>
</g>
<g id="line2d_254">
<path d="M 161.311562 144.72" clip-path="url(#p1a0d5e3a1a)" style="fill: none; stroke: #dddcdc; stroke-width: 1.5; stroke-linecap: square"/>
<defs>
<path id="m8d8430ebe0" d="M 0 -3  L -3 3  L 3 3 
z
" style="stroke: #dddcdc; stroke-linejoin: miter"/>
</defs>
<g clip-path="url(#p1a0d5e3a1a)">
<use href="#m8d8430ebe0" x="161.311562" y="144.72" style="fill: #dddcdc; stroke: #dddcdc; stroke-linejoin: miter"/>
</g>
</g>
<g id="line2d_255">
<path d="M 161.311562 147.12" clip-path="url(#p1a0d5e3a1a)" style="fill: none; stroke: #dddcdc; stroke-width: 1.5; stroke-linecap: square"/>
<g clip-path="url(#p1a0d5e3a1a)">
<use href="#m8d8430ebe0" x="161.311562" y="147.12" style="fill: #dddcdc; stroke: #dddcdc; stroke-linejoin: miter"/>
</g>
</g>
<g id="line2d_256">
<path d="M 204.361644 241.68" clip-path="url(#p1a0d5e3a1a)" style="fill: none; stroke: #dddcdc; stroke-width: 1.5; stroke-linecap: square"/>
<defs>
<path id="m02b2c163e3" d="M 0 3  C 0.795609 3 1.55874 2.683901 2.12132 2.12132  C 2.683901 1.55874 3 0.795609 3 0  C 3 -0.795609 2.683901 -1.55874 2.12132 -2.12132  C 1.55874 -2.683901 0.795609 -3 0 -3  C -0.795609 -3 -1.55874 -2.683901 -2.12132 -2.12132  C -2.683901 -1.55874 -3 -0.795609 -3 0  C -3 0.795609 -2.683901 1.55874 -2.12132 2.12132  C -1.55874 2.683901 -0.795609 3 0 3 
z
" style="stroke: #dddcdc"/>
</defs>
<g clip-path="url(#p1a0d5e3a1a)">
<use href="#m02b2c163e3" x="204.361644" y="241.68" style="fill: #dddcdc; stroke: #dddcdc"/>
</g>
</g>
<g id="line2d_257">
<path d="M 251.32537 192.48" clip-path="url(#p1a0d5e3a1a)" style="fill: none; stroke: #dddcdc; stroke-width: 1.5; stroke-linecap: square"/>
<g clip-path="url(#p1a0d5e3a1a)">
<use href="#m02b2c163e3" x="251.32537" y="192.48" style="fill: #dddcdc; stroke: #dddcdc"/>
</g>
</g>
<g id="line2d_258">
<path d="M 297.310685 222.96" clip-path="url(#p1a0d5e3a1a)" style="fill: none; stroke: #dddcdc; stroke-width: 1.5; stroke-linecap: square"/>
<g clip-path="url(#p1a0d5e3a1a)">
<use href="#m02b2c163e3" x="297.310685" y="222.96" style="fill: #dddcdc; stroke: #dddcdc"/>
</g>
</g>
<g id="line2d_259">
<path d="M 341.339178 182.88" clip-path="url(#p1a0d5e3a1a)" style="fill: none; stroke: #dfdbd9; stroke-width: 1.5; stroke-linecap: square"/>
<defs>
<path id="m942e8061fb" d="M 0 3  C 0.795609 3 1.55874 2.683901 2.12132 2.12132  C 2.683901 1.55874 3 0.795609 3 0  C 3 -0.795609 2.683901 -1.55874 2.12132 -2.12132  C 1.55874 -2.683901 0.795609 -3 0 -3  C -0.795609 -3 -1.55874 -2.683901 -2.12132 -2.12132  C -2.683901 -1.55874 -3 -0.795609 -3 0  C -3 0.795609 -2.683901 1.55874 -2.12132 2.12132  C -1.55874 2.683901 -0.795609 3 0 3 
z
" style="stroke: #dfdbd9"/>
</defs>
<g clip-path="url(#p1a0d5e3a1a)">
<use href="#m942e8061fb" x="341.339178" y="182.88" style="fill: #dfdbd9; stroke: #dfdbd9"/>
</g>
</g>
<g id="line2d_260">
<path d="M 251.32537 190.8" clip-path="url(#p1a0d5e3a1a)" style="fill: none; stroke: #e4d9d2; stroke-width: 1.5; stroke-linecap: square"/>
<defs>
<path id="m2084f3211d" d="M 0 3  C 0.795609 3 1.55874 2.683901 2.12132 2.12132  C 2.683901 1.55874 3 0.795609 3 0  C 3 -0.795609 2.683901 -1.55874 2.12132 -2.12132  C 1.55874 -2.683901 0.795609 -3 0 -3  C -0.795609 -3 -1.55874 -2.683901 -2.12132 -2.12132  C -2.683901 -1.55874 -3 -0.795609 -3 0  C -3 0.795609 -2.683901 1.55874 -2.12132 2.12132  C -1.55874 2.683901 -0.795609 3 0 3 
z
" style="stroke: #e4d9d2"/>
</defs>
<g clip-path="url(#p1a0d5e3a1a)">
<use href="#m2084f3211d" x="251.32537" y="190.8" style="fill: #e4d9d2; stroke: #e4d9d2"/>
</g>
</g>
<g id="line2d_261">
<path d="M 297.310685 223.44" clip-path="url(#p1a0d5e3a1a)" style="fill: none; stroke: #e4d9d2; stroke-width: 1.5; stroke-linecap: square"/>
<g clip-path="url(#p1a0d5e3a1a)">
<use href="#m2084f3211d" x="297.310685" y="223.44" style="fill: #e4d9d2; stroke: #e4d9d2"/>
</g>
</g>
<g id="line2d_262">
<path d="M 204.361644 237.36" clip-path="url(#p1a0d5e3a1a)" style="fill: none; stroke: #e7d7ce; stroke-width: 1.5; stroke-linecap: square"/>
<defs>
<path id="meda18538da" d="M 0 3  C 0.795609 3 1.55874 2.683901 2.12132 2.12132  C 2.683901 1.55874 3 0.795609 3 0  C 3 -0.795609 2.683901 -1.55874 2.12132 -2.12132  C 1.55874 -2.683901 0.795609 -3 0 -3  C -0.795609 -3 -1.55874 -2.683901 -2.12132 -2.12132  C -2.683901 -1.55874 -3 -0.795609 -3 0  C -3 0.795609 -2.683901 1.55874 -2.12132 2.12132  C -1.55874 2.683901 -0.795609 3 0 3 
z
" style="stroke: #e7d7ce"/>
</defs>
<g clip-path="url(#p1a0d5e3a1a)">
<use href="#meda18538da" x="204.361644" y="237.36" style="fill: #e7d7ce; stroke: #e7d7ce"/>
</g>
</g>
<g id="line2d_263">
<path d="M 204.361644 171.12" clip-path="url(#p1a0d5e3a1a)" style="fill: none; stroke: #e9d5cb; stroke-width: 1.5; stroke-linecap: square"/>
<defs>
<path id="md130544015" d="M 0 3  C 0.795609 3 1.55874 2.683901 2.12132 2.12132  C 2.683901 1.55874 3 0.795609 3 0  C 3 -0.795609 2.683901 -1.55874 2.12132 -2.12132  C 1.55874 -2.683901 0.795609 -3 0 -3  C -0.795609 -3 -1.55874 -2.683901 -2.12132 -2.12132  C -2.683901 -1.55874 -3 -0.795609 -3 0  C -3 0.795609 -2.683901 1.55874 -2.12132 2.12132  C -1.55874 2.683901 -0.795609 3 0 3 
z
" style="stroke: #e9d5cb"/>
</defs>
<g clip-path="url(#p1a0d5e3a1a)">
<use href="#md130544015" x="204.361644" y="171.12" style="fill: #e9d5cb; stroke: #e9d5cb"/>
</g>
</g>
<g id="line2d_264">
<path d="M 204.361644 191.28" clip-path="url(#p1a0d5e3a1a)" style="fill: none; stroke: #edd2c3; stroke-width: 1.5; stroke-linecap: square"/>
<defs>
<path id="mf860749b48" d="M 0 3  C 0.795609 3 1.55874 2.683901 2.12132 2.12132  C 2.683901 1.55874 3 0.795609 3 0  C 3 -0.795609 2.683901 -1.55874 2.12132 -2.12132  C 1.55874 -2.683901 0.795609 -3 0 -3  C -0.795609 -3 -1.55874 -2.683901 -2.12132 -2.12132  C -2.683901 -1.55874 -3 -0.795609 -3 0  C -3 0.795609 -2.683901 1.55874 -2.12132 2.12132  C -1.55874 2.683901 -0.795609 3 0 3 
z
" style="stroke: #edd2c3"/>
</defs>
<g clip-path="url(#p1a0d5e3a1a)">
<use href="#mf860749b48" x="204.361644" y="191.28" style="fill: #edd2c3; stroke: #edd2c3"/>
</g>
</g>
<g id="line2d_265">
<path d="M 204.361644 211.92" clip-path="url(#p1a0d5e3a1a)" style="fill: none; stroke: #edd2c3; stroke-width: 1.5; stroke-linecap: square"/>
<g clip-path="url(#p1a0d5e3a1a)">
<use href="#mf860749b48" x="204.361644" y="211.92" style="fill: #edd2c3; stroke: #edd2c3"/>
</g>
</g>
<g id="line2d_266">
<path d="M 204.361644 228.72" clip-path="url(#p1a0d5e3a1a)" style="fill: none; stroke: #edd2c3; stroke-width: 1.5; stroke-linecap: square"/>
<g clip-path="url(#p1a0d5e3a1a)">
<use href="#mf860749b48" x="204.361644" y="228.72" style="fill: #edd2c3; stroke: #edd2c3"/>
</g>
</g>
<g id="line2d_267">
<path d="M 161.311562 124.32" clip-path="url(#p1a0d5e3a1a)" style="fill: none; stroke: #f2cbb7; stroke-width: 1.5; stroke-linecap: square"/>
<defs>
<path id="mb7f8dd1060" d="M 0 -3  L -3 3  L 3 3 
z
" style="stroke: #f2cbb7; stroke-linejoin: miter"/>
</defs>
<g clip-path="url(#p1a0d5e3a1a)">
<use href="#mb7f8dd1060" x="161.311562" y="124.32" style="fill: #f2cbb7; stroke: #f2cbb7; stroke-linejoin: miter"/>
</g>
</g>
<g id="line2d_268">
<path d="M 204.361644 184.32" clip-path="url(#p1a0d5e3a1a)" style="fill: none; stroke: #f2cbb7; stroke-width: 1.5; stroke-linecap: square"/>
<defs>
<path id="m20ad5d9022" d="M 0 3  C 0.795609 3 1.55874 2.683901 2.12132 2.12132  C 2.683901 1.55874 3 0.795609 3 0  C 3 -0.795609 2.683901 -1.55874 2.12132 -2.12132  C 1.55874 -2.683901 0.795609 -3 0 -3  C -0.795609 -3 -1.55874 -2.683901 -2.12132 -2.12132  C -2.683901 -1.55874 -3 -0.795609 -3 0  C -3 0.795609 -2.683901 1.55874 -2.12132 2.12132  C -1.55874 2.683901 -0.795609 3 0 3 
z
" style="stroke: #f2cbb7"/>
</defs>
<g clip-path="url(#p1a0d5e3a1a)">
<use href="#m20ad5d9022" x="204.361644" y="184.32" style="fill: #f2cbb7; stroke: #f2cbb7"/>
</g>
</g>
<g id="line2d_269">
<path d="M 204.361644 187.2" clip-path="url(#p1a0d5e3a1a)" style="fill: none; stroke: #f2cbb7; stroke-width: 1.5; stroke-linecap: square"/>
<g clip-path="url(#p1a0d5e3a1a)">
<use href="#m20ad5d9022" x="204.361644" y="187.2" style="fill: #f2cbb7; stroke: #f2cbb7"/>
</g>
</g>
<g id="line2d_270">
<path d="M 251.32537 208.08" clip-path="url(#p1a0d5e3a1a)" style="fill: none; stroke: #f2cbb7; stroke-width: 1.5; stroke-linecap: square"/>
<g clip-path="url(#p1a0d5e3a1a)">
<use href="#m20ad5d9022" x="251.32537" y="208.08" style="fill: #f2cbb7; stroke: #f2cbb7"/>
</g>
</g>
<g id="line2d_271">
<path d="M 134.894466 132" clip-path="url(#p1a0d5e3a1a)" style="fill: none; stroke: #f6bda2; stroke-width: 1.5; stroke-linecap: square"/>
<defs>
<path id="m6c4f25a1b3" d="M 0 3  C 0.795609 3 1.55874 2.683901 2.12132 2.12132  C 2.683901 1.55874 3 0.795609 3 0  C 3 -0.795609 2.683901 -1.55874 2.12132 -2.12132  C 1.55874 -2.683901 0.795609 -3 0 -3  C -0.795609 -3 -1.55874 -2.683901 -2.12132 -2.12132  C -2.683901 -1.55874 -3 -0.795609 -3 0  C -3 0.795609 -2.683901 1.55874 -2.12132 2.12132  C -1.55874 2.683901 -0.795609 3 0 3 
z
" style="stroke: #f6bda2"/>
</defs>
<g clip-path="url(#p1a0d5e3a1a)">
<use href="#m6c4f25a1b3" x="134.894466" y="132" style="fill: #f6bda2; stroke: #f6bda2"/>
</g>
</g>
<g id="line2d_272">
<path d="M 297.310685 194.28" clip-path="url(#p1a0d5e3a1a)" style="fill: none; stroke: #f7ba9f; stroke-width: 1.5; stroke-linecap: square"/>
<defs>
<path id="m877c43ce9e" d="M 0 3  C 0.795609 3 1.55874 2.683901 2.12132 2.12132  C 2.683901 1.55874 3 0.795609 3 0  C 3 -0.795609 2.683901 -1.55874 2.12132 -2.12132  C 1.55874 -2.683901 0.795609 -3 0 -3  C -0.795609 -3 -1.55874 -2.683901 -2.12132 -2.12132  C -2.683901 -1.55874 -3 -0.795609 -3 0  C -3 0.795609 -2.683901 1.55874 -2.12132 2.12132  C -1.55874 2.683901 -0.795609 3 0 3 
z
" style="stroke: #f7ba9f"/>
</defs>
<g clip-path="url(#p1a0d5e3a1a)">
<use href="#m877c43ce9e" x="297.310685" y="194.28" style="fill: #f7ba9f; stroke: #f7ba9f"/>
</g>
</g>
<g id="line2d_273">
<path d="M 204.361644 196.32" clip-path="url(#p1a0d5e3a1a)" style="fill: none; stroke: #f7b396; stroke-width: 1.5; stroke-linecap: square"/>
<defs>
<path id="m6e8ad7ffe2" d="M 0 3  C 0.795609 3 1.55874 2.683901 2.12132 2.12132  C 2.683901 1.55874 3 0.795609 3 0  C 3 -0.795609 2.683901 -1.55874 2.12132 -2.12132  C 1.55874 -2.683901 0.795609 -3 0 -3  C -0.795609 -3 -1.55874 -2.683901 -2.12132 -2.12132  C -2.683901 -1.55874 -3 -0.795609 -3 0  C -3 0.795609 -2.683901 1.55874 -2.12132 2.12132  C -1.55874 2.683901 -0.795609 3 0 3 
z
" style="stroke: #f7b396"/>
</defs>
<g clip-path="url(#p1a0d5e3a1a)">
<use href="#m6e8ad7ffe2" x="204.361644" y="196.32" style="fill: #f7b396; stroke: #f7b396"/>
</g>
</g>
<g id="line2d_274">
<path d="M 204.361644 202.08" clip-path="url(#p1a0d5e3a1a)" style="fill: none; stroke: #f7b396; stroke-width: 1.5; stroke-linecap: square"/>
<g clip-path="url(#p1a0d5e3a1a)">
<use href="#m6e8ad7ffe2" x="204.361644" y="202.08" style="fill: #f7b396; stroke: #f7b396"/>
</g>
</g>
<g id="line2d_275">
<path d="M 297.310685 174.96" clip-path="url(#p1a0d5e3a1a)" style="fill: none; stroke: #f7b396; stroke-width: 1.5; stroke-linecap: square"/>
<g clip-path="url(#p1a0d5e3a1a)">
<use href="#m6e8ad7ffe2" x="297.310685" y="174.96" style="fill: #f7b396; stroke: #f7b396"/>
</g>
</g>
<g id="line2d_276">
<path d="M 161.311562 137.28" clip-path="url(#p1a0d5e3a1a)" style="fill: none; stroke: #f7ac8e; stroke-width: 1.5; stroke-linecap: square"/>
<defs>
<path id="m76ebc321a4" d="M 0 -3  L -3 3  L 3 3 
z
" style="stroke: #f7ac8e; stroke-linejoin: miter"/>
</defs>
<g clip-path="url(#p1a0d5e3a1a)">
<use href="#m76ebc321a4" x="161.311562" y="137.28" style="fill: #f7ac8e; stroke: #f7ac8e; stroke-linejoin: miter"/>
</g>
</g>
<g id="line2d_277">
<path d="M 204.361644 223.92" clip-path="url(#p1a0d5e3a1a)" style="fill: none; stroke: #f7ac8e; stroke-width: 1.5; stroke-linecap: square"/>
<defs>
<path id="m4cd694fe70" d="M 0 3  C 0.795609 3 1.55874 2.683901 2.12132 2.12132  C 2.683901 1.55874 3 0.795609 3 0  C 3 -0.795609 2.683901 -1.55874 2.12132 -2.12132  C 1.55874 -2.683901 0.795609 -3 0 -3  C -0.795609 -3 -1.55874 -2.683901 -2.12132 -2.12132  C -2.683901 -1.55874 -3 -0.795609 -3 0  C -3 0.795609 -2.683901 1.55874 -2.12132 2.12132  C -1.55874 2.683901 -0.795609 3 0 3 
z
" style="stroke: #f7ac8e"/>
</defs>
<g clip-path="url(#p1a0d5e3a1a)">
<use href="#m4cd694fe70" x="204.361644" y="223.92" style="fill: #f7ac8e; stroke: #f7ac8e"/>
</g>
</g>
<g id="line2d_278">
<path d="M 297.310685 172.32" clip-path="url(#p1a0d5e3a1a)" style="fill: none; stroke: #f7ac8e; stroke-width: 1.5; stroke-linecap: square"/>
<g clip-path="url(#p1a0d5e3a1a)">
<use href="#m4cd694fe70" x="297.310685" y="172.32" style="fill: #f7ac8e; stroke: #f7ac8e"/>
</g>
</g>
<g id="line2d_279">
<path d="M 297.310685 204" clip-path="url(#p1a0d5e3a1a)" style="fill: none; stroke: #f7ac8e; stroke-width: 1.5; stroke-linecap: square"/>
<g clip-path="url(#p1a0d5e3a1a)">
<use href="#m4cd694fe70" x="297.310685" y="204" style="fill: #f7ac8e; stroke: #f7ac8e"/>
</g>
</g>
<g id="line2d_280">
<path d="M 134.894466 124.08" clip-path="url(#p1a0d5e3a1a)" style="fill: none; stroke: #f6a586; stroke-width: 1.5; stroke-linecap: square"/>
<defs>
<path id="m5dc8b4d85a" d="M 0 -3  L -3 3  L 3 3 
z
" style="stroke: #f6a586; stroke-linejoin: miter"/>
</defs>
<g clip-path="url(#p1a0d5e3a1a)">
<use href="#m5dc8b4d85a" x="134.894466" y="124.08" style="fill: #f6a586; stroke: #f6a586; stroke-linejoin: miter"/>
</g>
</g>
<g id="line2d_281">
<path d="M 161.311562 157.68" clip-path="url(#p1a0d5e3a1a)" style="fill: none; stroke: #f6a586; stroke-width: 1.5; stroke-linecap: square"/>
<g clip-path="url(#p1a0d5e3a1a)">
<use href="#m5dc8b4d85a" x="161.311562" y="157.68" style="fill: #f6a586; stroke: #f6a586; stroke-linejoin: miter"/>
</g>
</g>
<g id="line2d_282">
<path d="M 161.311562 152.4" clip-path="url(#p1a0d5e3a1a)" style="fill: none; stroke: #f6a586; stroke-width: 1.5; stroke-linecap: square"/>
<g clip-path="url(#p1a0d5e3a1a)">
<use href="#m5dc8b4d85a" x="161.311562" y="152.4" style="fill: #f6a586; stroke: #f6a586; stroke-linejoin: miter"/>
</g>
</g>
<g id="line2d_283">
<path d="M 204.361644 174.48" clip-path="url(#p1a0d5e3a1a)" style="fill: none; stroke: #f6a586; stroke-width: 1.5; stroke-linecap: square"/>
<defs>
<path id="mf16d04ae3e" d="M 0 3  C 0.795609 3 1.55874 2.683901 2.12132 2.12132  C 2.683901 1.55874 3 0.795609 3 0  C 3 -0.795609 2.683901 -1.55874 2.12132 -2.12132  C 1.55874 -2.683901 0.795609 -3 0 -3  C -0.795609 -3 -1.55874 -2.683901 -2.12132 -2.12132  C -2.683901 -1.55874 -3 -0.795609 -3 0  C -3 0.795609 -2.683901 1.55874 -2.12132 2.12132  C -1.55874 2.683901 -0.795609 3 0 3 
z
" style="stroke: #f6a586"/>
</defs>
<g clip-path="url(#p1a0d5e3a1a)">
<use href="#mf16d04ae3e" x="204.361644" y="174.48" style="fill: #f6a586; stroke: #f6a586"/>
</g>
</g>
<g id="line2d_284">
<path d="M 251.32537 178.56" clip-path="url(#p1a0d5e3a1a)" style="fill: none; stroke: #f6a283; stroke-width: 1.5; stroke-linecap: square"/>
<defs>
<path id="m706d8d4dba" d="M 0 -3  L -3 3  L 3 3 
z
" style="stroke: #f6a283; stroke-linejoin: miter"/>
</defs>
<g clip-path="url(#p1a0d5e3a1a)">
<use href="#m706d8d4dba" x="251.32537" y="178.56" style="fill: #f6a283; stroke: #f6a283; stroke-linejoin: miter"/>
</g>
</g>
<g id="line2d_285">
<path d="M 161.311562 162" clip-path="url(#p1a0d5e3a1a)" style="fill: none; stroke: #f4987a; stroke-width: 1.5; stroke-linecap: square"/>
<defs>
<path id="mb0b198766a" d="M 0 3  C 0.795609 3 1.55874 2.683901 2.12132 2.12132  C 2.683901 1.55874 3 0.795609 3 0  C 3 -0.795609 2.683901 -1.55874 2.12132 -2.12132  C 1.55874 -2.683901 0.795609 -3 0 -3  C -0.795609 -3 -1.55874 -2.683901 -2.12132 -2.12132  C -2.683901 -1.55874 -3 -0.795609 -3 0  C -3 0.795609 -2.683901 1.55874 -2.12132 2.12132  C -1.55874 2.683901 -0.795609 3 0 3 
z
" style="stroke: #f4987a"/>
</defs>
<g clip-path="url(#p1a0d5e3a1a)">
<use href="#mb0b198766a" x="161.311562" y="162" style="fill: #f4987a; stroke: #f4987a"/>
</g>
</g>
<g id="line2d_286">
<path d="M 204.361644 210" clip-path="url(#p1a0d5e3a1a)" style="fill: none; stroke: #f4987a; stroke-width: 1.5; stroke-linecap: square"/>
<g clip-path="url(#p1a0d5e3a1a)">
<use href="#mb0b198766a" x="204.361644" y="210" style="fill: #f4987a; stroke: #f4987a"/>
</g>
</g>
<g id="line2d_287">
<path d="M 204.361644 215.52" clip-path="url(#p1a0d5e3a1a)" style="fill: none; stroke: #f4987a; stroke-width: 1.5; stroke-linecap: square"/>
<g clip-path="url(#p1a0d5e3a1a)">
<use href="#mb0b198766a" x="204.361644" y="215.52" style="fill: #f4987a; stroke: #f4987a"/>
</g>
</g>
<g id="line2d_288">
<path d="M 204.361644 251.04" clip-path="url(#p1a0d5e3a1a)" style="fill: none; stroke: #f4987a; stroke-width: 1.5; stroke-linecap: square"/>
<g clip-path="url(#p1a0d5e3a1a)">
<use href="#mb0b198766a" x="204.361644" y="251.04" style="fill: #f4987a; stroke: #f4987a"/>
</g>
</g>
<g id="line2d_289">
<path d="M 204.361644 219.6" clip-path="url(#p1a0d5e3a1a)" style="fill: none; stroke: #f39577; stroke-width: 1.5; stroke-linecap: square"/>
<defs>
<path id="m082d6401c6" d="M 0 3  C 0.795609 3 1.55874 2.683901 2.12132 2.12132  C 2.683901 1.55874 3 0.795609 3 0  C 3 -0.795609 2.683901 -1.55874 2.12132 -2.12132  C 1.55874 -2.683901 0.795609 -3 0 -3  C -0.795609 -3 -1.55874 -2.683901 -2.12132 -2.12132  C -2.683901 -1.55874 -3 -0.795609 -3 0  C -3 0.795609 -2.683901 1.55874 -2.12132 2.12132  C -1.55874 2.683901 -0.795609 3 0 3 
z
" style="stroke: #f39577"/>
</defs>
<g clip-path="url(#p1a0d5e3a1a)">
<use href="#m082d6401c6" x="204.361644" y="219.6" style="fill: #f39577; stroke: #f39577"/>
</g>
</g>
<g id="line2d_290">
<path d="M 161.311562 166.08" clip-path="url(#p1a0d5e3a1a)" style="fill: none; stroke: #f18d6f; stroke-width: 1.5; stroke-linecap: square"/>
<defs>
<path id="m9fb92f5433" d="M 0 -3  L -3 3  L 3 3 
z
" style="stroke: #f18d6f; stroke-linejoin: miter"/>
</defs>
<g clip-path="url(#p1a0d5e3a1a)">
<use href="#m9fb92f5433" x="161.311562" y="166.08" style="fill: #f18d6f; stroke: #f18d6f; stroke-linejoin: miter"/>
</g>
</g>
<g id="line2d_291">
<path d="M 204.361644 246" clip-path="url(#p1a0d5e3a1a)" style="fill: none; stroke: #f18d6f; stroke-width: 1.5; stroke-linecap: square"/>
<defs>
<path id="mb0b595504c" d="M 0 3  C 0.795609 3 1.55874 2.683901 2.12132 2.12132  C 2.683901 1.55874 3 0.795609 3 0  C 3 -0.795609 2.683901 -1.55874 2.12132 -2.12132  C 1.55874 -2.683901 0.795609 -3 0 -3  C -0.795609 -3 -1.55874 -2.683901 -2.12132 -2.12132  C -2.683901 -1.55874 -3 -0.795609 -3 0  C -3 0.795609 -2.683901 1.55874 -2.12132 2.12132  C -1.55874 2.683901 -0.795609 3 0 3 
z
" style="stroke: #f18d6f"/>
</defs>
<g clip-path="url(#p1a0d5e3a1a)">
<use href="#mb0b595504c" x="204.361644" y="246" style="fill: #f18d6f; stroke: #f18d6f"/>
</g>
</g>
<g id="line2d_292">
<path d="M 204.361644 207.36" clip-path="url(#p1a0d5e3a1a)" style="fill: none; stroke: #ee8468; stroke-width: 1.5; stroke-linecap: square"/>
<defs>
<path id="m0f74dc7498" d="M 0 3  C 0.795609 3 1.55874 2.683901 2.12132 2.12132  C 2.683901 1.55874 3 0.795609 3 0  C 3 -0.795609 2.683901 -1.55874 2.12132 -2.12132  C 1.55874 -2.683901 0.795609 -3 0 -3  C -0.795609 -3 -1.55874 -2.683901 -2.12132 -2.12132  C -2.683901 -1.55874 -3 -0.795609 -3 0  C -3 0.795609 -2.683901 1.55874 -2.12132 2.12132  C -1.55874 2.683901 -0.795609 3 0 3 
z
" style="stroke: #ee8468"/>
</defs>
<g clip-path="url(#p1a0d5e3a1a)">
<use href="#m0f74dc7498" x="204.361644" y="207.36" style="fill: #ee8468; stroke: #ee8468"/>
</g>
</g>
<g id="line2d_293">
<path d="M 204.361644 180.24" clip-path="url(#p1a0d5e3a1a)" style="fill: none; stroke: #ee8468; stroke-width: 1.5; stroke-linecap: square"/>
<g clip-path="url(#p1a0d5e3a1a)">
<use href="#m0f74dc7498" x="204.361644" y="180.24" style="fill: #ee8468; stroke: #ee8468"/>
</g>
</g>
<g id="line2d_294">
<path d="M 161.311562 169.68" clip-path="url(#p1a0d5e3a1a)" style="fill: none; stroke: #e36c55; stroke-width: 1.5; stroke-linecap: square"/>
<defs>
<path id="md482f82692" d="M 0 3  C 0.795609 3 1.55874 2.683901 2.12132 2.12132  C 2.683901 1.55874 3 0.795609 3 0  C 3 -0.795609 2.683901 -1.55874 2.12132 -2.12132  C 1.55874 -2.683901 0.795609 -3 0 -3  C -0.795609 -3 -1.55874 -2.683901 -2.12132 -2.12132  C -2.683901 -1.55874 -3 -0.795609 -3 0  C -3 0.795609 -2.683901 1.55874 -2.12132 2.12132  C -1.55874 2.683901 -0.795609 3 0 3 
z
" style="stroke: #e36c55"/>
</defs>
<g clip-path="url(#p1a0d5e3a1a)">
<use href="#md482f82692" x="161.311562" y="169.68" style="fill: #e36c55; stroke: #e36c55"/>
</g>
</g>
<g id="line2d_295">
<path d="M 161.311562 188.88" clip-path="url(#p1a0d5e3a1a)" style="fill: none; stroke: #dc5d4a; stroke-width: 1.5; stroke-linecap: square"/>
<defs>
<path id="m057e6de027" d="M 0 3  C 0.795609 3 1.55874 2.683901 2.12132 2.12132  C 2.683901 1.55874 3 0.795609 3 0  C 3 -0.795609 2.683901 -1.55874 2.12132 -2.12132  C 1.55874 -2.683901 0.795609 -3 0 -3  C -0.795609 -3 -1.55874 -2.683901 -2.12132 -2.12132  C -2.683901 -1.55874 -3 -0.795609 -3 0  C -3 0.795609 -2.683901 1.55874 -2.12132 2.12132  C -1.55874 2.683901 -0.795609 3 0 3 
z
" style="stroke: #dc5d4a"/>
</defs>
<g clip-path="url(#p1a0d5e3a1a)">
<use href="#m057e6de027" x="161.311562" y="188.88" style="fill: #dc5d4a; stroke: #dc5d4a"/>
</g>
</g>
<g id="line2d_296">
<path d="M 204.361644 269.76" clip-path="url(#p1a0d5e3a1a)" style="fill: none; stroke: #dc5d4a; stroke-width: 1.5; stroke-linecap: square"/>
<g clip-path="url(#p1a0d5e3a1a)">
<use href="#m057e6de027" x="204.361644" y="269.76" style="fill: #dc5d4a; stroke: #dc5d4a"/>
</g>
</g>
<g id="line2d_297">
<path d="M 161.311562 182.88" clip-path="url(#p1a0d5e3a1a)" style="fill: none; stroke: #d95847; stroke-width: 1.5; stroke-linecap: square"/>
<defs>
<path id="mea32c186da" d="M 0 3  C 0.795609 3 1.55874 2.683901 2.12132 2.12132  C 2.683901 1.55874 3 0.795609 3 0  C 3 -0.795609 2.683901 -1.55874 2.12132 -2.12132  C 1.55874 -2.683901 0.795609 -3 0 -3  C -0.795609 -3 -1.55874 -2.683901 -2.12132 -2.12132  C -2.683901 -1.55874 -3 -0.795609 -3 0  C -3 0.795609 -2.683901 1.55874 -2.12132 2.12132  C -1.55874 2.683901 -0.795609 3 0 3 
z
" style="stroke: #d95847"/>
</defs>
<g clip-path="url(#p1a0d5e3a1a)">
<use href="#mea32c186da" x="161.311562" y="182.88" style="fill: #d95847; stroke: #d95847"/>
</g>
</g>
<g id="line2d_298">
<path d="M 161.311562 174.72" clip-path="url(#p1a0d5e3a1a)" style="fill: none; stroke: #d65244; stroke-width: 1.5; stroke-linecap: square"/>
<defs>
<path id="m583bfd2d83" d="M 0 3  C 0.795609 3 1.55874 2.683901 2.12132 2.12132  C 2.683901 1.55874 3 0.795609 3 0  C 3 -0.795609 2.683901 -1.55874 2.12132 -2.12132  C 1.55874 -2.683901 0.795609 -3 0 -3  C -0.795609 -3 -1.55874 -2.683901 -2.12132 -2.12132  C -2.683901 -1.55874 -3 -0.795609 -3 0  C -3 0.795609 -2.683901 1.55874 -2.12132 2.12132  C -1.55874 2.683901 -0.795609 3 0 3 
z
" style="stroke: #d65244"/>
</defs>
<g clip-path="url(#p1a0d5e3a1a)">
<use href="#m583bfd2d83" x="161.311562" y="174.72" style="fill: #d65244; stroke: #d65244"/>
</g>
</g>
<g id="line2d_299">
<path d="M 161.311562 179.28" clip-path="url(#p1a0d5e3a1a)" style="fill: none; stroke: #d65244; stroke-width: 1.5; stroke-linecap: square"/>
<g clip-path="url(#p1a0d5e3a1a)">
<use href="#m583bfd2d83" x="161.311562" y="179.28" style="fill: #d65244; stroke: #d65244"/>
</g>
</g>
<g id="line2d_300">
<path d="M 204.361644 234.6" clip-path="url(#p1a0d5e3a1a)" style="fill: none; stroke: #cc403a; stroke-width: 1.5; stroke-linecap: square"/>
<defs>
<path id="mb9ac6547c0" d="M 0 3  C 0.795609 3 1.55874 2.683901 2.12132 2.12132  C 2.683901 1.55874 3 0.795609 3 0  C 3 -0.795609 2.683901 -1.55874 2.12132 -2.12132  C 1.55874 -2.683901 0.795609 -3 0 -3  C -0.795609 -3 -1.55874 -2.683901 -2.12132 -2.12132  C -2.683901 -1.55874 -3 -0.795609 -3 0  C -3 0.795609 -2.683901 1.55874 -2.12132 2.12132  C -1.55874 2.683901 -0.795609 3 0 3 
z
" style="stroke: #cc403a"/>
</defs>
<g clip-path="url(#p1a0d5e3a1a)">
<use href="#mb9ac6547c0" x="204.361644" y="234.6" style="fill: #cc403a; stroke: #cc403a"/>
</g>
</g>
<g id="line2d_301">
<path d="M 134.894466 138" clip-path="url(#p1a0d5e3a1a)" style="fill: none; stroke: #c53334; stroke-width: 1.5; stroke-linecap: square"/>
<defs>
<path id="mcf98f7ab3a" d="M 0 -3  L -3 3  L 3 3 
z
" style="stroke: #c53334; stroke-linejoin: miter"/>
</defs>
<g clip-path="url(#p1a0d5e3a1a)">
<use href="#mcf98f7ab3a" x="134.894466" y="138" style="fill: #c53334; stroke: #c53334; stroke-linejoin: miter"/>
</g>
</g>
<g id="line2d_302">
<path d="M 134.894466 145.68" clip-path="url(#p1a0d5e3a1a)" style="fill: none; stroke: #c53334; stroke-width: 1.5; stroke-linecap: square"/>
<defs>
<path id="m9015eee7df" d="M 0 3  C 0.795609 3 1.55874 2.683901 2.12132 2.12132  C 2.683901 1.55874 3 0.795609 3 0  C 3 -0.795609 2.683901 -1.55874 2.12132 -2.12132  C 1.55874 -2.683901 0.795609 -3 0 -3  C -0.795609 -3 -1.55874 -2.683901 -2.12132 -2.12132  C -2.683901 -1.55874 -3 -0.795609 -3 0  C -3 0.795609 -2.683901 1.55874 -2.12132 2.12132  C -1.55874 2.683901 -0.795609 3 0 3 
z
" style="stroke: #c53334"/>
</defs>
<g clip-path="url(#p1a0d5e3a1a)">
<use href="#m9015eee7df" x="134.894466" y="145.68" style="fill: #c53334; stroke: #c53334"/>
</g>
</g>
<g id="line2d_303">
<path d="M 161.311562 198.48" clip-path="url(#p1a0d5e3a1a)" style="fill: none; stroke: #be242e; stroke-width: 1.5; stroke-linecap: square"/>
<defs>
<path id="ma32f27f0cf" d="M 0 3  C 0.795609 3 1.55874 2.683901 2.12132 2.12132  C 2.683901 1.55874 3 0.795609 3 0  C 3 -0.795609 2.683901 -1.55874 2.12132 -2.12132  C 1.55874 -2.683901 0.795609 -3 0 -3  C -0.795609 -3 -1.55874 -2.683901 -2.12132 -2.12132  C -2.683901 -1.55874 -3 -0.795609 -3 0  C -3 0.795609 -2.683901 1.55874 -2.12132 2.12132  C -1.55874 2.683901 -0.795609 3 0 3 
z
" style="stroke: #be242e"/>
</defs>
<g clip-path="url(#p1a0d5e3a1a)">
<use href="#ma32f27f0cf" x="161.311562" y="198.48" style="fill: #be242e; stroke: #be242e"/>
</g>
</g>
<g id="patch_3">
<path d="M 57.7200 307.8000  L 57.7200 41.6400" style="fill: none; stroke: #000000; stroke-width: 0.8; stroke-linejoin: miter; stroke-linecap: square"/>
</g>
<g id="patch_4">
<path d="M 343.3200 307.8000  L 343.3200 41.6400" style="fill: none; stroke: #000000; stroke-width: 0.8; stroke-linejoin: miter; stroke-linecap: square"/>
</g>
<g id="patch_5">
<path d="M 57.7200 307.8000  L 343.3200 307.8000" style="fill: none; stroke: #000000; stroke-width: 0.8; stroke-linejoin: miter; stroke-linecap: square"/>
</g>
<g id="patch_6">
<path d="M 57.7200 41.6400  L 343.3200 41.6400" style="fill: none; stroke: #000000; stroke-width: 0.8; stroke-linejoin: miter; stroke-linecap: square"/>
</g>
<g id="text_21">
<text style="font-weight: 700; font-size: 11.92px; font-family: 'DejaVu Sans', 'Liberation Sans', sans-serif; text-anchor: middle" x="200.98" y="35.472">Rv0667 - rpoB</text>
</g>
</g>
<g id="axes_2">
<g id="patch_7">
<path d="M 361.152 307.584  L 374.4576 307.584  L 374.4576 41.472  L 361.152 41.472 
z
" style="fill: #ffffff"/>
</g>
<defs><linearGradient id="cbg" x1="0" y1="0" x2="0" y2="1"><stop offset="0.0000" stop-color="#b40426"/><stop offset="0.0078" stop-color="#b50927"/><stop offset="0.0156" stop-color="#b8122a"/><stop offset="0.0234" stop-color="#bb1b2c"/><stop offset="0.0312" stop-color="#be242e"/><stop offset="0.0391" stop-color="#c12b30"/><stop offset="0.0469" stop-color="#c43032"/><stop offset="0.0547" stop-color="#c73635"/><stop offset="0.0625" stop-color="#ca3b37"/><stop offset="0.0703" stop-color="#cc403a"/><stop offset="0.0781" stop-color="#cf453c"/><stop offset="0.0859" stop-color="#d1493f"/><stop offset="0.0938" stop-color="#d44e41"/><stop offset="0.1016" stop-color="#d65244"/><stop offset="0.1094" stop-color="#d85646"/><stop offset="0.1172" stop-color="#da5a49"/><stop offset="0.1250" stop-color="#dd5f4b"/><stop offset="0.1328" stop-color="#df634e"/><stop offset="0.1406" stop-color="#e16751"/><stop offset="0.1484" stop-color="#e36b54"/><stop offset="0.1562" stop-color="#e46e56"/><stop offset="0.1641" stop-color="#e67259"/><stop offset="0.1719" stop-color="#e8765c"/><stop offset="0.1797" stop-color="#e97a5f"/><stop offset="0.1875" stop-color="#eb7d62"/><stop offset="0.1953" stop-color="#ec8165"/><stop offset="0.2031" stop-color="#ee8468"/><stop offset="0.2109" stop-color="#ef886b"/><stop offset="0.2188" stop-color="#f08b6e"/><stop offset="0.2266" stop-color="#f18f71"/><stop offset="0.2344" stop-color="#f29274"/><stop offset="0.2422" stop-color="#f39577"/><stop offset="0.2500" stop-color="#f4987a"/><stop offset="0.2578" stop-color="#f59c7d"/><stop offset="0.2656" stop-color="#f59f80"/><stop offset="0.2734" stop-color="#f6a283"/><stop offset="0.2812" stop-color="#f6a586"/><stop offset="0.2891" stop-color="#f7a889"/><stop offset="0.2969" stop-color="#f7aa8c"/><stop offset="0.3047" stop-color="#f7ad90"/><stop offset="0.3125" stop-color="#f7b093"/><stop offset="0.3203" stop-color="#f7b396"/><stop offset="0.3281" stop-color="#f7b599"/><stop offset="0.3359" stop-color="#f7b89c"/><stop offset="0.3438" stop-color="#f7ba9f"/><stop offset="0.3516" stop-color="#f6bda2"/><stop offset="0.3594" stop-color="#f6bfa6"/><stop offset="0.3672" stop-color="#f5c1a9"/><stop offset="0.3750" stop-color="#f5c4ac"/><stop offset="0.3828" stop-color="#f4c6af"/><stop offset="0.3906" stop-color="#f3c8b2"/><stop offset="0.3984" stop-color="#f2cab5"/><stop offset="0.4062" stop-color="#f1ccb8"/><stop offset="0.4141" stop-color="#f0cdbb"/><stop offset="0.4219" stop-color="#efcfbf"/><stop offset="0.4297" stop-color="#edd1c2"/><stop offset="0.4375" stop-color="#ecd3c5"/><stop offset="0.4453" stop-color="#ead4c8"/><stop offset="0.4531" stop-color="#e9d5cb"/><stop offset="0.4609" stop-color="#e7d7ce"/><stop offset="0.4688" stop-color="#e5d8d1"/><stop offset="0.4766" stop-color="#e3d9d3"/><stop offset="0.4844" stop-color="#e1dad6"/><stop offset="0.4922" stop-color="#dfdbd9"/><stop offset="0.5000" stop-color="#dddcdc"/><stop offset="0.5078" stop-color="#dbdcde"/><stop offset="0.5156" stop-color="#d9dce1"/><stop offset="0.5234" stop-color="#d7dce3"/><stop offset="0.5312" stop-color="#d5dbe5"/><stop offset="0.5391" stop-color="#d3dbe7"/><stop offset="0.5469" stop-color="#d1dae9"/><stop offset="0.5547" stop-color="#cedaeb"/><stop offset="0.5625" stop-color="#ccd9ed"/><stop offset="0.5703" stop-color="#cad8ef"/><stop offset="0.5781" stop-color="#c7d7f0"/><stop offset="0.5859" stop-color="#c5d6f2"/><stop offset="0.5938" stop-color="#c3d5f4"/><stop offset="0.6016" stop-color="#c0d4f5"/><stop offset="0.6094" stop-color="#bed2f6"/><stop offset="0.6172" stop-color="#bbd1f8"/><stop offset="0.6250" stop-color="#b9d0f9"/><stop offset="0.6328" stop-color="#b6cefa"/><stop offset="0.6406" stop-color="#b3cdfb"/><stop offset="0.6484" stop-color="#b1cbfc"/><stop offset="0.6562" stop-color="#aec9fc"/><stop offset="0.6641" stop-color="#abc8fd"/><stop offset="0.6719" stop-color="#a9c6fd"/><stop offset="0.6797" stop-color="#a6c4fe"/><stop offset="0.6875" stop-color="#a3c2fe"/><stop offset="0.6953" stop-color="#a1c0ff"/><stop offset="0.7031" stop-color="#9ebeff"/><stop offset="0.7109" stop-color="#9bbcff"/><stop offset="0.7188" stop-color="#98b9ff"/><stop offset="0.7266" stop-color="#96b7ff"/><stop offset="0.7344" stop-color="#93b5fe"/><stop offset="0.7422" stop-color="#90b2fe"/><stop offset="0.7500" stop-color="#8db0fe"/><stop offset="0.7578" stop-color="#8badfd"/><stop offset="0.7656" stop-color="#88abfd"/><stop offset="0.7734" stop-color="#85a8fc"/><stop offset="0.7812" stop-color="#82a6fb"/><stop offset="0.7891" stop-color="#80a3fa"/><stop offset="0.7969" stop-color="#7da0f9"/><stop offset="0.8047" stop-color="#7a9df8"/><stop offset="0.8125" stop-color="#779af7"/><stop offset="0.8203" stop-color="#7597f6"/><stop offset="0.8281" stop-color="#7295f4"/><stop offset="0.8359" stop-color="#6f92f3"/><stop offset="0.8438" stop-color="#6c8ff1"/><stop offset="0.8516" stop-color="#6a8bef"/><stop offset="0.8594" stop-color="#6788ee"/><stop offset="0.8672" stop-color="#6485ec"/><stop offset="0.8750" stop-color="#6282ea"/><stop offset="0.8828" stop-color="#5f7fe8"/><stop offset="0.8906" stop-color="#5d7ce6"/><stop offset="0.8984" stop-color="#5a78e4"/><stop offset="0.9062" stop-color="#5875e1"/><stop offset="0.9141" stop-color="#5572df"/><stop offset="0.9219" stop-color="#536edd"/><stop offset="0.9297" stop-color="#506bda"/><stop offset="0.9375" stop-color="#4e68d8"/><stop offset="0.9453" stop-color="#4b64d5"/><stop offset="0.9531" stop-color="#4961d2"/><stop offset="0.9609" stop-color="#465ecf"/><stop offset="0.9688" stop-color="#445acc"/><stop offset="0.9766" stop-color="#4257c9"/><stop offset="0.9844" stop-color="#3f53c6"/><stop offset="0.9922" stop-color="#3d50c3"/><stop offset="1.0000" stop-color="#3b4cc0"/></linearGradient></defs><rect x="361.152" y="41.472" width="13.3056" height="266.112" fill="url(#cbg)"/>
<g id="matplotlib.axis_3"/>
<g id="matplotlib.axis_4">
<g id="ytick_10">
<g id="line2d_304">
<defs>
<path id="m1dec2b6b89" d="M 0 0  L 3.5 0" style="stroke: #000000; stroke-width: 0.8"/>
</defs>
<g>
<use href="#m1dec2b6b89" x="374.5200" y="307.8000" style="stroke: #000000; stroke-width: 0.8"/>
</g>
</g>
<g id="text_22">
<text style="font-size: 10px; font-family: 'DejaVu Sans', 'Liberation Sans', sans-serif; text-anchor: start" x="381.4576" y="311.383219" transform="rotate(-0 381.4576 311.383219)">0.0</text>
</g>
</g>
<g id="ytick_11">
<g id="line2d_305">
<g>
<use href="#m1dec2b6b89" x="374.5200" y="254.5200" style="stroke: #000000; stroke-width: 0.8"/>
</g>
</g>
<g id="text_23">
<text style="font-size: 10px; font-family: 'DejaVu Sans', 'Liberation Sans', sans-serif; text-anchor: start" x="381.4576" y="258.160819" transform="rotate(-0 381.4576 258.160819)">0.2</text>
</g>
</g>
<g id="ytick_12">
<g id="line2d_306">
<g>
<use href="#m1dec2b6b89" x="374.5200" y="201.2400" style="stroke: #000000; stroke-width: 0.8"/>
</g>
</g>
<g id="text_24">
<text style="font-size: 10px; font-family: 'DejaVu Sans', 'Liberation Sans', sans-serif; text-anchor: start" x="381.4576" y="204.938419" transform="rotate(-0 381.4576 204.938419)">0.4</text>
</g>
</g>
<g id="ytick_13">
<g id="line2d_307">
<g>
<use href="#m1dec2b6b89" x="374.5200" y="147.9600" style="stroke: #000000; stroke-width: 0.8"/>
</g>
</g>
<g id="text_25">
<text style="font-size: 10px; font-family: 'DejaVu Sans', 'Liberation Sans', sans-serif; text-anchor: start" x="381.4576" y="151.716019" transform="rotate(-0 381.4576 151.716019)">0.6</text>
</g>
</g>
<g id="ytick_14">
<g id="line2d_308">
<g>
<use href="#m1dec2b6b89" x="374.5200" y="94.9200" style="stroke: #000000; stroke-width: 0.8"/>
</g>
</g>
<g id="text_26">
<text style="font-size: 10px; font-family: 'DejaVu Sans', 'Liberation Sans', sans-serif; text-anchor: start" x="381.4576" y="98.493619" transform="rotate(-0 381.4576 98.493619)">0.8</text>
</g>
</g>
<g id="ytick_15">
<g id="line2d_309">
<g>
<use href="#m1dec2b6b89" x="374.5200" y="41.6400" style="stroke: #000000; stroke-width: 0.8"/>
</g>
</g>
<g id="text_27">
<text style="font-size: 10px; font-family: 'DejaVu Sans', 'Liberation Sans', sans-serif; text-anchor: start" x="381.4576" y="45.271219" transform="rotate(-0 381.4576 45.271219)">1.0</text>
</g>
</g>
</g>
<g id="LineCollection_1"/>
<g id="patch_8">
<path d="M 361.3200 307.8000  L 368.0400 307.8000  L 374.5200 307.8000  L 374.5200 41.6400  L 368.0400 41.6400  L 361.3200 41.6400  L 361.3200 307.8000 
z
" style="fill: none; stroke: #000000; stroke-width: 0.8; stroke-linejoin: miter; stroke-linecap: square"/>
</g>
</g>
</g>
<defs>
<clipPath id="p1a0d5e3a1a">
<rect x="57.6" y="41.472" width="285.696" height="266.112"/>
</clipPath>
</defs>
</svg>

</body></html>
